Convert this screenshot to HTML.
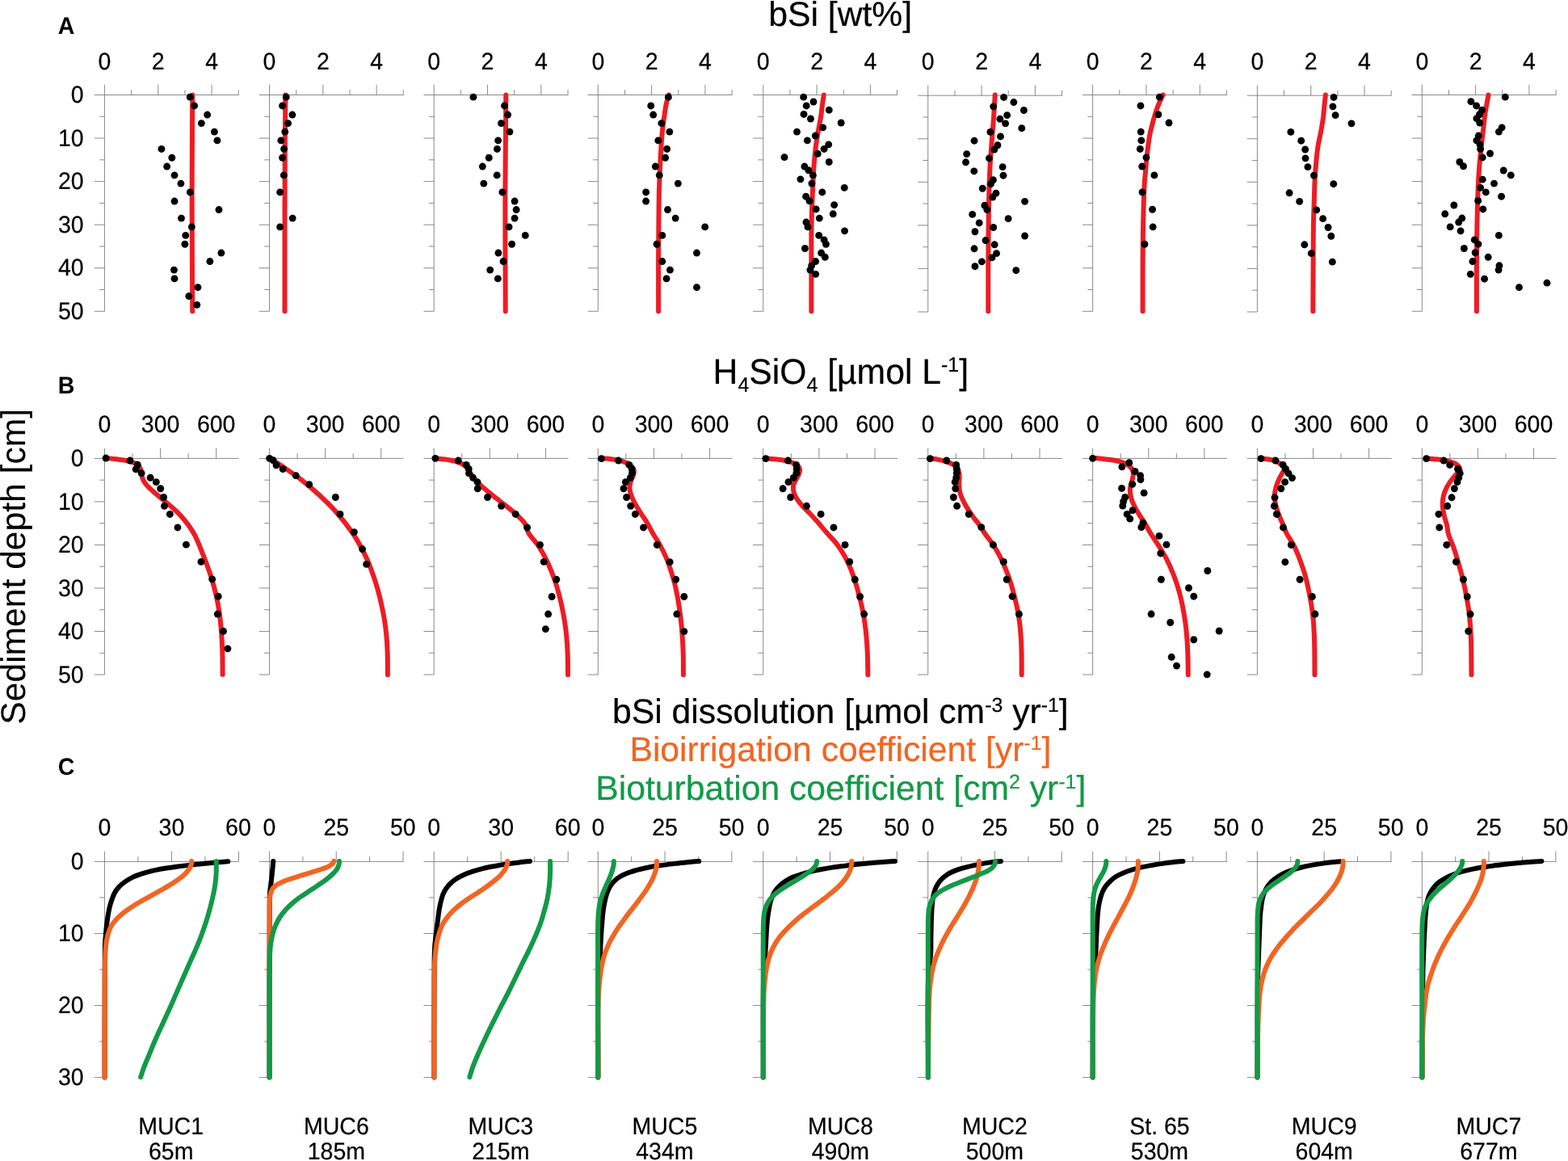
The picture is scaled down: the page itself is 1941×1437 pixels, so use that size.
<!DOCTYPE html>
<html lang="en"><head><meta charset="utf-8"><title>Sediment profiles: bSi, H4SiO4, dissolution</title>
<style>html,body{margin:0;padding:0;background:#fff}body{width:1941px;height:1437px;overflow:hidden}svg{display:block;text-rendering:geometricPrecision}text{font-family:"Liberation Sans", sans-serif;fill:#000;stroke:#000;stroke-width:0.22px}</style>
</head><body>
<svg width="1941" height="1437" viewBox="0 0 1941 1437">
<rect width="1941" height="1437" fill="#fff"/>
<g font-size="28.5">
<text transform="translate(129.45 86) scale(1 1.04)" text-anchor="middle">0</text>
<text transform="translate(195.77 86) scale(1 1.04)" text-anchor="middle">2</text>
<text transform="translate(262.09 86) scale(1 1.04)" text-anchor="middle">4</text>
<text transform="translate(129.45 535.4) scale(1 1.04)" text-anchor="middle">0</text>
<text transform="translate(198.57 535.4) scale(1 1.04)" text-anchor="middle">300</text>
<text transform="translate(267.69 535.4) scale(1 1.04)" text-anchor="middle">600</text>
<text transform="translate(129.45 1034.3) scale(1 1.04)" text-anchor="middle">0</text>
<text transform="translate(212.45 1034.3) scale(1 1.04)" text-anchor="middle">30</text>
<text transform="translate(294.95 1034.3) scale(1 1.04)" text-anchor="middle">60</text>
<text transform="translate(333.5 86) scale(1 1.04)" text-anchor="middle">0</text>
<text transform="translate(399.82 86) scale(1 1.04)" text-anchor="middle">2</text>
<text transform="translate(466.14 86) scale(1 1.04)" text-anchor="middle">4</text>
<text transform="translate(333.5 535.4) scale(1 1.04)" text-anchor="middle">0</text>
<text transform="translate(402.62 535.4) scale(1 1.04)" text-anchor="middle">300</text>
<text transform="translate(471.74 535.4) scale(1 1.04)" text-anchor="middle">600</text>
<text transform="translate(333.5 1034.3) scale(1 1.04)" text-anchor="middle">0</text>
<text transform="translate(416.25 1034.3) scale(1 1.04)" text-anchor="middle">25</text>
<text transform="translate(498.8 1034.3) scale(1 1.04)" text-anchor="middle">50</text>
<text transform="translate(537.2 86) scale(1 1.04)" text-anchor="middle">0</text>
<text transform="translate(603.52 86) scale(1 1.04)" text-anchor="middle">2</text>
<text transform="translate(669.84 86) scale(1 1.04)" text-anchor="middle">4</text>
<text transform="translate(537.2 535.4) scale(1 1.04)" text-anchor="middle">0</text>
<text transform="translate(606.32 535.4) scale(1 1.04)" text-anchor="middle">300</text>
<text transform="translate(675.44 535.4) scale(1 1.04)" text-anchor="middle">600</text>
<text transform="translate(537.2 1034.3) scale(1 1.04)" text-anchor="middle">0</text>
<text transform="translate(620.2 1034.3) scale(1 1.04)" text-anchor="middle">30</text>
<text transform="translate(702.7 1034.3) scale(1 1.04)" text-anchor="middle">60</text>
<text transform="translate(740.3 86) scale(1 1.04)" text-anchor="middle">0</text>
<text transform="translate(806.62 86) scale(1 1.04)" text-anchor="middle">2</text>
<text transform="translate(872.94 86) scale(1 1.04)" text-anchor="middle">4</text>
<text transform="translate(740.3 535.4) scale(1 1.04)" text-anchor="middle">0</text>
<text transform="translate(809.42 535.4) scale(1 1.04)" text-anchor="middle">300</text>
<text transform="translate(878.54 535.4) scale(1 1.04)" text-anchor="middle">600</text>
<text transform="translate(740.3 1034.3) scale(1 1.04)" text-anchor="middle">0</text>
<text transform="translate(823.05 1034.3) scale(1 1.04)" text-anchor="middle">25</text>
<text transform="translate(905.6 1034.3) scale(1 1.04)" text-anchor="middle">50</text>
<text transform="translate(944.75 86) scale(1 1.04)" text-anchor="middle">0</text>
<text transform="translate(1011.07 86) scale(1 1.04)" text-anchor="middle">2</text>
<text transform="translate(1077.39 86) scale(1 1.04)" text-anchor="middle">4</text>
<text transform="translate(944.75 535.4) scale(1 1.04)" text-anchor="middle">0</text>
<text transform="translate(1013.87 535.4) scale(1 1.04)" text-anchor="middle">300</text>
<text transform="translate(1082.99 535.4) scale(1 1.04)" text-anchor="middle">600</text>
<text transform="translate(944.75 1034.3) scale(1 1.04)" text-anchor="middle">0</text>
<text transform="translate(1027.5 1034.3) scale(1 1.04)" text-anchor="middle">25</text>
<text transform="translate(1110.05 1034.3) scale(1 1.04)" text-anchor="middle">50</text>
<text transform="translate(1148.75 86) scale(1 1.04)" text-anchor="middle">0</text>
<text transform="translate(1215.07 86) scale(1 1.04)" text-anchor="middle">2</text>
<text transform="translate(1281.39 86) scale(1 1.04)" text-anchor="middle">4</text>
<text transform="translate(1148.75 535.4) scale(1 1.04)" text-anchor="middle">0</text>
<text transform="translate(1217.87 535.4) scale(1 1.04)" text-anchor="middle">300</text>
<text transform="translate(1286.99 535.4) scale(1 1.04)" text-anchor="middle">600</text>
<text transform="translate(1148.75 1034.3) scale(1 1.04)" text-anchor="middle">0</text>
<text transform="translate(1231.5 1034.3) scale(1 1.04)" text-anchor="middle">25</text>
<text transform="translate(1314.05 1034.3) scale(1 1.04)" text-anchor="middle">50</text>
<text transform="translate(1352.65 86) scale(1 1.04)" text-anchor="middle">0</text>
<text transform="translate(1418.97 86) scale(1 1.04)" text-anchor="middle">2</text>
<text transform="translate(1485.29 86) scale(1 1.04)" text-anchor="middle">4</text>
<text transform="translate(1352.65 535.4) scale(1 1.04)" text-anchor="middle">0</text>
<text transform="translate(1421.77 535.4) scale(1 1.04)" text-anchor="middle">300</text>
<text transform="translate(1490.89 535.4) scale(1 1.04)" text-anchor="middle">600</text>
<text transform="translate(1352.65 1034.3) scale(1 1.04)" text-anchor="middle">0</text>
<text transform="translate(1435.4 1034.3) scale(1 1.04)" text-anchor="middle">25</text>
<text transform="translate(1517.95 1034.3) scale(1 1.04)" text-anchor="middle">50</text>
<text transform="translate(1556.4 86) scale(1 1.04)" text-anchor="middle">0</text>
<text transform="translate(1622.72 86) scale(1 1.04)" text-anchor="middle">2</text>
<text transform="translate(1689.04 86) scale(1 1.04)" text-anchor="middle">4</text>
<text transform="translate(1556.4 535.4) scale(1 1.04)" text-anchor="middle">0</text>
<text transform="translate(1625.52 535.4) scale(1 1.04)" text-anchor="middle">300</text>
<text transform="translate(1694.64 535.4) scale(1 1.04)" text-anchor="middle">600</text>
<text transform="translate(1556.4 1034.3) scale(1 1.04)" text-anchor="middle">0</text>
<text transform="translate(1639.15 1034.3) scale(1 1.04)" text-anchor="middle">25</text>
<text transform="translate(1721.7 1034.3) scale(1 1.04)" text-anchor="middle">50</text>
<text transform="translate(1760.3 86) scale(1 1.04)" text-anchor="middle">0</text>
<text transform="translate(1826.62 86) scale(1 1.04)" text-anchor="middle">2</text>
<text transform="translate(1892.94 86) scale(1 1.04)" text-anchor="middle">4</text>
<text transform="translate(1760.3 535.4) scale(1 1.04)" text-anchor="middle">0</text>
<text transform="translate(1829.42 535.4) scale(1 1.04)" text-anchor="middle">300</text>
<text transform="translate(1898.54 535.4) scale(1 1.04)" text-anchor="middle">600</text>
<text transform="translate(1760.3 1034.3) scale(1 1.04)" text-anchor="middle">0</text>
<text transform="translate(1843.05 1034.3) scale(1 1.04)" text-anchor="middle">25</text>
<text transform="translate(1925.6 1034.3) scale(1 1.04)" text-anchor="middle">50</text>
<text transform="translate(103.6 127.2) scale(1 1.04)" text-anchor="end">0</text>
<text transform="translate(103.6 180.76) scale(1 1.04)" text-anchor="end">10</text>
<text transform="translate(103.6 234.32) scale(1 1.04)" text-anchor="end">20</text>
<text transform="translate(103.6 287.88) scale(1 1.04)" text-anchor="end">30</text>
<text transform="translate(103.6 341.44) scale(1 1.04)" text-anchor="end">40</text>
<text transform="translate(103.6 395) scale(1 1.04)" text-anchor="end">50</text>
<text transform="translate(103.6 577.1) scale(1 1.04)" text-anchor="end">0</text>
<text transform="translate(103.6 630.62) scale(1 1.04)" text-anchor="end">10</text>
<text transform="translate(103.6 684.14) scale(1 1.04)" text-anchor="end">20</text>
<text transform="translate(103.6 737.66) scale(1 1.04)" text-anchor="end">30</text>
<text transform="translate(103.6 791.18) scale(1 1.04)" text-anchor="end">40</text>
<text transform="translate(103.6 844.7) scale(1 1.04)" text-anchor="end">50</text>
<text transform="translate(103.6 1076.1) scale(1 1.04)" text-anchor="end">0</text>
<text transform="translate(103.6 1165.17) scale(1 1.04)" text-anchor="end">10</text>
<text transform="translate(103.6 1254.23) scale(1 1.04)" text-anchor="end">20</text>
<text transform="translate(103.6 1343.3) scale(1 1.04)" text-anchor="end">30</text>
</g>
<path d="M116.75 117.5H295.65M129.45 104.8V385.3M162.61 117.5V111.2M195.77 117.5V104.8M228.93 117.5V111.2M262.09 117.5V104.8M295.25 117.5V111.2M129.45 144.28H123.15M129.45 171.06H116.75M129.45 197.84H123.15M129.45 224.62H116.75M129.45 251.4H123.15M129.45 278.18H116.75M129.45 304.96H123.15M129.45 331.74H116.75M129.45 358.52H123.15M129.45 385.3H116.75" fill="none" stroke="#7a7a7a" stroke-width="0.88"/>
<path d="M116.75 567.4H295.65M129.45 554.7V835M164.01 567.4V561.1M198.57 567.4V554.7M233.13 567.4V561.1M267.69 567.4V554.7M129.45 594.16H123.15M129.45 620.92H116.75M129.45 647.68H123.15M129.45 674.44H116.75M129.45 701.2H123.15M129.45 727.96H116.75M129.45 754.72H123.15M129.45 781.48H116.75M129.45 808.24H123.15M129.45 835H116.75" fill="none" stroke="#7a7a7a" stroke-width="0.88"/>
<path d="M116.75 1066.4H295.65M129.45 1053.7V1333.6M170.95 1066.4V1060.1M212.45 1066.4V1053.7M253.95 1066.4V1060.1M295.45 1066.4V1053.7M129.45 1110.93H123.15M129.45 1155.47H116.75M129.45 1200H123.15M129.45 1244.53H116.75M129.45 1289.07H123.15M129.45 1333.6H116.75" fill="none" stroke="#7a7a7a" stroke-width="0.88"/>
<path d="M320.8 117.5H499.7M333.5 104.8V385.3M366.66 117.5V111.2M399.82 117.5V104.8M432.98 117.5V111.2M466.14 117.5V104.8M499.3 117.5V111.2M333.5 144.28H327.2M333.5 171.06H320.8M333.5 197.84H327.2M333.5 224.62H320.8M333.5 251.4H327.2M333.5 278.18H320.8M333.5 304.96H327.2M333.5 331.74H320.8M333.5 358.52H327.2M333.5 385.3H320.8" fill="none" stroke="#7a7a7a" stroke-width="0.88"/>
<path d="M320.8 567.4H499.7M333.5 554.7V835M368.06 567.4V561.1M402.62 567.4V554.7M437.18 567.4V561.1M471.74 567.4V554.7M333.5 594.16H327.2M333.5 620.92H320.8M333.5 647.68H327.2M333.5 674.44H320.8M333.5 701.2H327.2M333.5 727.96H320.8M333.5 754.72H327.2M333.5 781.48H320.8M333.5 808.24H327.2M333.5 835H320.8" fill="none" stroke="#7a7a7a" stroke-width="0.88"/>
<path d="M320.8 1066.4H499.7M333.5 1053.7V1333.6M374.88 1066.4V1060.1M416.25 1066.4V1053.7M457.62 1066.4V1060.1M499 1066.4V1053.7M333.5 1110.93H327.2M333.5 1155.47H320.8M333.5 1200H327.2M333.5 1244.53H320.8M333.5 1289.07H327.2M333.5 1333.6H320.8" fill="none" stroke="#7a7a7a" stroke-width="0.88"/>
<path d="M524.5 117.5H703.4M537.2 104.8V385.3M570.36 117.5V111.2M603.52 117.5V104.8M636.68 117.5V111.2M669.84 117.5V104.8M703 117.5V111.2M537.2 144.28H530.9M537.2 171.06H524.5M537.2 197.84H530.9M537.2 224.62H524.5M537.2 251.4H530.9M537.2 278.18H524.5M537.2 304.96H530.9M537.2 331.74H524.5M537.2 358.52H530.9M537.2 385.3H524.5" fill="none" stroke="#7a7a7a" stroke-width="0.88"/>
<path d="M524.5 567.4H703.4M537.2 554.7V835M571.76 567.4V561.1M606.32 567.4V554.7M640.88 567.4V561.1M675.44 567.4V554.7M537.2 594.16H530.9M537.2 620.92H524.5M537.2 647.68H530.9M537.2 674.44H524.5M537.2 701.2H530.9M537.2 727.96H524.5M537.2 754.72H530.9M537.2 781.48H524.5M537.2 808.24H530.9M537.2 835H524.5" fill="none" stroke="#7a7a7a" stroke-width="0.88"/>
<path d="M524.5 1066.4H703.4M537.2 1053.7V1333.6M578.7 1066.4V1060.1M620.2 1066.4V1053.7M661.7 1066.4V1060.1M703.2 1066.4V1053.7M537.2 1110.93H530.9M537.2 1155.47H524.5M537.2 1200H530.9M537.2 1244.53H524.5M537.2 1289.07H530.9M537.2 1333.6H524.5" fill="none" stroke="#7a7a7a" stroke-width="0.88"/>
<path d="M727.6 117.5H906.5M740.3 104.8V385.3M773.46 117.5V111.2M806.62 117.5V104.8M839.78 117.5V111.2M872.94 117.5V104.8M906.1 117.5V111.2M740.3 144.28H734M740.3 171.06H727.6M740.3 197.84H734M740.3 224.62H727.6M740.3 251.4H734M740.3 278.18H727.6M740.3 304.96H734M740.3 331.74H727.6M740.3 358.52H734M740.3 385.3H727.6" fill="none" stroke="#7a7a7a" stroke-width="0.88"/>
<path d="M727.6 567.4H906.5M740.3 554.7V835M774.86 567.4V561.1M809.42 567.4V554.7M843.98 567.4V561.1M878.54 567.4V554.7M740.3 594.16H734M740.3 620.92H727.6M740.3 647.68H734M740.3 674.44H727.6M740.3 701.2H734M740.3 727.96H727.6M740.3 754.72H734M740.3 781.48H727.6M740.3 808.24H734M740.3 835H727.6" fill="none" stroke="#7a7a7a" stroke-width="0.88"/>
<path d="M727.6 1066.4H906.5M740.3 1053.7V1333.6M781.67 1066.4V1060.1M823.05 1066.4V1053.7M864.42 1066.4V1060.1M905.8 1066.4V1053.7M740.3 1110.93H734M740.3 1155.47H727.6M740.3 1200H734M740.3 1244.53H727.6M740.3 1289.07H734M740.3 1333.6H727.6" fill="none" stroke="#7a7a7a" stroke-width="0.88"/>
<path d="M932.05 117.5H1110.95M944.75 104.8V385.3M977.91 117.5V111.2M1011.07 117.5V104.8M1044.23 117.5V111.2M1077.39 117.5V104.8M1110.55 117.5V111.2M944.75 144.28H938.45M944.75 171.06H932.05M944.75 197.84H938.45M944.75 224.62H932.05M944.75 251.4H938.45M944.75 278.18H932.05M944.75 304.96H938.45M944.75 331.74H932.05M944.75 358.52H938.45M944.75 385.3H932.05" fill="none" stroke="#7a7a7a" stroke-width="0.88"/>
<path d="M932.05 567.4H1110.95M944.75 554.7V835M979.31 567.4V561.1M1013.87 567.4V554.7M1048.43 567.4V561.1M1082.99 567.4V554.7M944.75 594.16H938.45M944.75 620.92H932.05M944.75 647.68H938.45M944.75 674.44H932.05M944.75 701.2H938.45M944.75 727.96H932.05M944.75 754.72H938.45M944.75 781.48H932.05M944.75 808.24H938.45M944.75 835H932.05" fill="none" stroke="#7a7a7a" stroke-width="0.88"/>
<path d="M932.05 1066.4H1110.95M944.75 1053.7V1333.6M986.12 1066.4V1060.1M1027.5 1066.4V1053.7M1068.88 1066.4V1060.1M1110.25 1066.4V1053.7M944.75 1110.93H938.45M944.75 1155.47H932.05M944.75 1200H938.45M944.75 1244.53H932.05M944.75 1289.07H938.45M944.75 1333.6H932.05" fill="none" stroke="#7a7a7a" stroke-width="0.88"/>
<path d="M1136.05 118.2H1314.95M1148.75 105.5V386M1181.91 118.2V111.9M1215.07 118.2V105.5M1248.23 118.2V111.9M1281.39 118.2V105.5M1314.55 118.2V111.9M1148.75 144.98H1142.45M1148.75 171.76H1136.05M1148.75 198.54H1142.45M1148.75 225.32H1136.05M1148.75 252.1H1142.45M1148.75 278.88H1136.05M1148.75 305.66H1142.45M1148.75 332.44H1136.05M1148.75 359.22H1142.45M1148.75 386H1136.05" fill="none" stroke="#7a7a7a" stroke-width="0.88"/>
<path d="M1136.05 567.4H1314.95M1148.75 554.7V835M1183.31 567.4V561.1M1217.87 567.4V554.7M1252.43 567.4V561.1M1286.99 567.4V554.7M1148.75 594.16H1142.45M1148.75 620.92H1136.05M1148.75 647.68H1142.45M1148.75 674.44H1136.05M1148.75 701.2H1142.45M1148.75 727.96H1136.05M1148.75 754.72H1142.45M1148.75 781.48H1136.05M1148.75 808.24H1142.45M1148.75 835H1136.05" fill="none" stroke="#7a7a7a" stroke-width="0.88"/>
<path d="M1136.05 1066.4H1314.95M1148.75 1053.7V1333.6M1190.12 1066.4V1060.1M1231.5 1066.4V1053.7M1272.88 1066.4V1060.1M1314.25 1066.4V1053.7M1148.75 1110.93H1142.45M1148.75 1155.47H1136.05M1148.75 1200H1142.45M1148.75 1244.53H1136.05M1148.75 1289.07H1142.45M1148.75 1333.6H1136.05" fill="none" stroke="#7a7a7a" stroke-width="0.88"/>
<path d="M1339.95 117.5H1518.85M1352.65 104.8V385.3M1385.81 117.5V111.2M1418.97 117.5V104.8M1452.13 117.5V111.2M1485.29 117.5V104.8M1518.45 117.5V111.2M1352.65 144.28H1346.35M1352.65 171.06H1339.95M1352.65 197.84H1346.35M1352.65 224.62H1339.95M1352.65 251.4H1346.35M1352.65 278.18H1339.95M1352.65 304.96H1346.35M1352.65 331.74H1339.95M1352.65 358.52H1346.35M1352.65 385.3H1339.95" fill="none" stroke="#7a7a7a" stroke-width="0.88"/>
<path d="M1339.95 567.4H1518.85M1352.65 554.7V835M1387.21 567.4V561.1M1421.77 567.4V554.7M1456.33 567.4V561.1M1490.89 567.4V554.7M1352.65 594.16H1346.35M1352.65 620.92H1339.95M1352.65 647.68H1346.35M1352.65 674.44H1339.95M1352.65 701.2H1346.35M1352.65 727.96H1339.95M1352.65 754.72H1346.35M1352.65 781.48H1339.95M1352.65 808.24H1346.35M1352.65 835H1339.95" fill="none" stroke="#7a7a7a" stroke-width="0.88"/>
<path d="M1339.95 1066.4H1518.85M1352.65 1053.7V1333.6M1394.03 1066.4V1060.1M1435.4 1066.4V1053.7M1476.78 1066.4V1060.1M1518.15 1066.4V1053.7M1352.65 1110.93H1346.35M1352.65 1155.47H1339.95M1352.65 1200H1346.35M1352.65 1244.53H1339.95M1352.65 1289.07H1346.35M1352.65 1333.6H1339.95" fill="none" stroke="#7a7a7a" stroke-width="0.88"/>
<path d="M1543.7 118.2H1722.6M1556.4 105.5V386M1589.56 118.2V111.9M1622.72 118.2V105.5M1655.88 118.2V111.9M1689.04 118.2V105.5M1722.2 118.2V111.9M1556.4 144.98H1550.1M1556.4 171.76H1543.7M1556.4 198.54H1550.1M1556.4 225.32H1543.7M1556.4 252.1H1550.1M1556.4 278.88H1543.7M1556.4 305.66H1550.1M1556.4 332.44H1543.7M1556.4 359.22H1550.1M1556.4 386H1543.7" fill="none" stroke="#7a7a7a" stroke-width="0.88"/>
<path d="M1543.7 567.4H1722.6M1556.4 554.7V835M1590.96 567.4V561.1M1625.52 567.4V554.7M1660.08 567.4V561.1M1694.64 567.4V554.7M1556.4 594.16H1550.1M1556.4 620.92H1543.7M1556.4 647.68H1550.1M1556.4 674.44H1543.7M1556.4 701.2H1550.1M1556.4 727.96H1543.7M1556.4 754.72H1550.1M1556.4 781.48H1543.7M1556.4 808.24H1550.1M1556.4 835H1543.7" fill="none" stroke="#7a7a7a" stroke-width="0.88"/>
<path d="M1543.7 1066.4H1722.6M1556.4 1053.7V1333.6M1597.78 1066.4V1060.1M1639.15 1066.4V1053.7M1680.53 1066.4V1060.1M1721.9 1066.4V1053.7M1556.4 1110.93H1550.1M1556.4 1155.47H1543.7M1556.4 1200H1550.1M1556.4 1244.53H1543.7M1556.4 1289.07H1550.1M1556.4 1333.6H1543.7" fill="none" stroke="#7a7a7a" stroke-width="0.88"/>
<path d="M1747.6 117.5H1926.5M1760.3 104.8V385.3M1793.46 117.5V111.2M1826.62 117.5V104.8M1859.78 117.5V111.2M1892.94 117.5V104.8M1926.1 117.5V111.2M1760.3 144.28H1754M1760.3 171.06H1747.6M1760.3 197.84H1754M1760.3 224.62H1747.6M1760.3 251.4H1754M1760.3 278.18H1747.6M1760.3 304.96H1754M1760.3 331.74H1747.6M1760.3 358.52H1754M1760.3 385.3H1747.6" fill="none" stroke="#7a7a7a" stroke-width="0.88"/>
<path d="M1747.6 567.4H1926.5M1760.3 554.7V835M1794.86 567.4V561.1M1829.42 567.4V554.7M1863.98 567.4V561.1M1898.54 567.4V554.7M1760.3 594.16H1754M1760.3 620.92H1747.6M1760.3 647.68H1754M1760.3 674.44H1747.6M1760.3 701.2H1754M1760.3 727.96H1747.6M1760.3 754.72H1754M1760.3 781.48H1747.6M1760.3 808.24H1754M1760.3 835H1747.6" fill="none" stroke="#7a7a7a" stroke-width="0.88"/>
<path d="M1747.6 1066.4H1926.5M1760.3 1053.7V1333.6M1801.67 1066.4V1060.1M1843.05 1066.4V1053.7M1884.42 1066.4V1060.1M1925.8 1066.4V1053.7M1760.3 1110.93H1754M1760.3 1155.47H1747.6M1760.3 1200H1754M1760.3 1244.53H1747.6M1760.3 1289.07H1754M1760.3 1333.6H1747.6" fill="none" stroke="#7a7a7a" stroke-width="0.88"/>
<path d="M238.22 117.5C238.12 136.79 238.02 154.78 237.93 175.38C237.83 198.99 237.64 226.55 237.64 251.37C237.64 275.22 237.83 298.7 237.93 321.52C238.02 343.27 238.12 364 238.22 385.24" fill="none" stroke="#ed1c24" stroke-width="6.0" stroke-linecap="round" stroke-linejoin="round"/>
<g fill="#000"><circle cx="235.3" cy="120.13" r="4.45"/><circle cx="240.56" cy="130.95" r="4.45"/><circle cx="256.64" cy="142.06" r="4.45"/><circle cx="249.33" cy="152.58" r="4.45"/><circle cx="265.4" cy="163.1" r="4.45"/><circle cx="268.91" cy="173.92" r="4.45"/><circle cx="199.93" cy="184.44" r="4.45"/><circle cx="212.79" cy="195.25" r="4.45"/><circle cx="206.65" cy="206.07" r="4.45"/><circle cx="216.01" cy="216.88" r="4.45"/><circle cx="223.9" cy="227.11" r="4.45"/><circle cx="235.3" cy="237.93" r="4.45"/><circle cx="216.01" cy="249.04" r="4.45"/><circle cx="270.96" cy="259.56" r="4.45"/><circle cx="224.48" cy="270.08" r="4.45"/><circle cx="237.34" cy="280.9" r="4.45"/><circle cx="229.74" cy="291.42" r="4.45"/><circle cx="228.87" cy="302.23" r="4.45"/><circle cx="273.88" cy="313.05" r="4.45"/><circle cx="259.85" cy="323.57" r="4.45"/><circle cx="215.42" cy="334.09" r="4.45"/><circle cx="216.01" cy="344.91" r="4.45"/><circle cx="244.94" cy="355.72" r="4.45"/><circle cx="233.84" cy="366.54" r="4.45"/><circle cx="243.77" cy="377.35" r="4.45"/></g>
<path d="M353.38 117.5C353.19 136.79 352.94 154.09 352.8 175.38C352.63 201.58 352.56 231.42 352.51 263.07C352.45 300.42 352.51 344.52 352.51 385.24" fill="none" stroke="#ed1c24" stroke-width="6.0" stroke-linecap="round" stroke-linejoin="round"/>
<g fill="#000"><circle cx="354.26" cy="120.13" r="4.45"/><circle cx="349.58" cy="130.95" r="4.45"/><circle cx="361.86" cy="142.06" r="4.45"/><circle cx="356.6" cy="152.58" r="4.45"/><circle cx="352.8" cy="163.1" r="4.45"/><circle cx="347.83" cy="173.92" r="4.45"/><circle cx="351.63" cy="184.44" r="4.45"/><circle cx="349.58" cy="195.25" r="4.45"/><circle cx="351.34" cy="216.88" r="4.45"/><circle cx="346.66" cy="237.93" r="4.45"/><circle cx="362.15" cy="270.08" r="4.45"/><circle cx="346.66" cy="280.9" r="4.45"/></g>
<path d="M626.27 117.5C626.17 132.9 626.1 146.69 625.98 163.69C625.83 184.64 625.48 211.52 625.39 233.84C625.3 254.21 625.35 270.56 625.39 292.3C625.43 319.71 625.59 354.26 625.69 385.24" fill="none" stroke="#ed1c24" stroke-width="6.0" stroke-linecap="round" stroke-linejoin="round"/>
<g fill="#000"><circle cx="585.93" cy="120.13" r="4.45"/><circle cx="624.52" cy="130.95" r="4.45"/><circle cx="628.61" cy="142.06" r="4.45"/><circle cx="620.43" cy="152.58" r="4.45"/><circle cx="630.95" cy="163.1" r="4.45"/><circle cx="616.63" cy="173.92" r="4.45"/><circle cx="615.46" cy="184.44" r="4.45"/><circle cx="605.23" cy="195.25" r="4.45"/><circle cx="597.33" cy="206.07" r="4.45"/><circle cx="615.16" cy="216.88" r="4.45"/><circle cx="598.8" cy="227.11" r="4.45"/><circle cx="621.89" cy="237.93" r="4.45"/><circle cx="637.09" cy="249.04" r="4.45"/><circle cx="639.13" cy="259.56" r="4.45"/><circle cx="637.09" cy="270.08" r="4.45"/><circle cx="630.07" cy="280.9" r="4.45"/><circle cx="650.24" cy="291.42" r="4.45"/><circle cx="633.58" cy="302.23" r="4.45"/><circle cx="616.92" cy="313.05" r="4.45"/><circle cx="623.06" cy="323.57" r="4.45"/><circle cx="606.69" cy="334.09" r="4.45"/><circle cx="616.33" cy="344.91" r="4.45"/></g>
<path d="M827.96 117.5C826.89 121.2 825.63 124.62 824.74 128.61C823.73 133.12 823.16 137.93 822.4 143.22C821.5 149.46 820.53 155.94 819.77 163.69C818.78 173.8 818.06 187.07 817.43 198.76C816.8 210.45 816.31 221.49 815.97 233.84C815.59 247.64 815.54 263.07 815.39 277.68C815.24 292.29 815.14 305.54 815.09 321.52C815.02 340.78 815.09 364 815.09 385.24" fill="none" stroke="#ed1c24" stroke-width="6.0" stroke-linecap="round" stroke-linejoin="round"/>
<g fill="#000"><circle cx="827.37" cy="120.13" r="4.45"/><circle cx="805.74" cy="130.95" r="4.45"/><circle cx="808.66" cy="142.06" r="4.45"/><circle cx="818.89" cy="152.58" r="4.45"/><circle cx="828.83" cy="163.1" r="4.45"/><circle cx="814.8" cy="173.92" r="4.45"/><circle cx="825.62" cy="184.44" r="4.45"/><circle cx="823.57" cy="195.25" r="4.45"/><circle cx="811.29" cy="206.07" r="4.45"/><circle cx="816.26" cy="216.88" r="4.45"/><circle cx="839.35" cy="227.11" r="4.45"/><circle cx="799.6" cy="237.93" r="4.45"/><circle cx="799.6" cy="249.04" r="4.45"/><circle cx="826.49" cy="259.56" r="4.45"/><circle cx="836.14" cy="270.08" r="4.45"/><circle cx="872.68" cy="280.9" r="4.45"/><circle cx="819.77" cy="291.42" r="4.45"/><circle cx="813.05" cy="302.23" r="4.45"/><circle cx="862.45" cy="313.05" r="4.45"/><circle cx="819.77" cy="323.57" r="4.45"/><circle cx="829.42" cy="334.09" r="4.45"/><circle cx="825.03" cy="344.91" r="4.45"/><circle cx="862.45" cy="355.72" r="4.45"/></g>
<path d="M1019.84 117.5C1019.26 121.2 1018.64 124.65 1018.09 128.61C1017.46 133.14 1017.06 138.36 1016.33 143.22C1015.6 148.1 1014.63 152.39 1013.7 157.84C1012.52 164.72 1010.92 173.41 1009.9 181.22C1008.88 189 1008.18 196.37 1007.56 204.61C1006.87 213.8 1006.54 224.1 1006.1 233.84C1005.66 243.58 1005.22 253.33 1004.93 263.07C1004.64 272.81 1004.46 281.57 1004.35 292.3C1004.22 305.44 1004.35 321.11 1004.35 336.14C1004.35 352.04 1004.35 368.87 1004.35 385.24" fill="none" stroke="#ed1c24" stroke-width="6.0" stroke-linecap="round" stroke-linejoin="round"/>
<g fill="#000"><circle cx="994.7" cy="120.13" r="4.45"/><circle cx="1006.98" cy="125.98" r="4.45"/><circle cx="998.21" cy="130.95" r="4.45"/><circle cx="1026.27" cy="136.21" r="4.45"/><circle cx="995" cy="141.47" r="4.45"/><circle cx="1003.47" cy="147.02" r="4.45"/><circle cx="1041.18" cy="151.99" r="4.45"/><circle cx="1018.67" cy="157.84" r="4.45"/><circle cx="986.52" cy="163.1" r="4.45"/><circle cx="1009.32" cy="168.07" r="4.45"/><circle cx="999.38" cy="173.92" r="4.45"/><circle cx="1025.69" cy="178.88" r="4.45"/><circle cx="1020.13" cy="184.44" r="4.45"/><circle cx="1012.24" cy="190.28" r="4.45"/><circle cx="971.03" cy="194.67" r="4.45"/><circle cx="1026.27" cy="200.51" r="4.45"/><circle cx="995.87" cy="206.07" r="4.45"/><circle cx="1000.84" cy="210.74" r="4.45"/><circle cx="1006.4" cy="216.88" r="4.45"/><circle cx="990.9" cy="221.85" r="4.45"/><circle cx="1004.93" cy="227.11" r="4.45"/><circle cx="1045.27" cy="232.37" r="4.45"/><circle cx="1017.79" cy="237.93" r="4.45"/><circle cx="997.63" cy="243.19" r="4.45"/><circle cx="1002.01" cy="248.74" r="4.45"/><circle cx="1032.7" cy="253.71" r="4.45"/><circle cx="1010.2" cy="258.97" r="4.45"/><circle cx="1031.24" cy="264.82" r="4.45"/><circle cx="1014.29" cy="270.08" r="4.45"/><circle cx="997.92" cy="275.05" r="4.45"/><circle cx="999.96" cy="280.9" r="4.45"/><circle cx="1045.56" cy="285.86" r="4.45"/><circle cx="1013.7" cy="291.42" r="4.45"/><circle cx="1020.13" cy="296.97" r="4.45"/><circle cx="1022.47" cy="302.23" r="4.45"/><circle cx="996.46" cy="307.49" r="4.45"/><circle cx="1016.63" cy="313.05" r="4.45"/><circle cx="1021.3" cy="318.31" r="4.45"/><circle cx="1009.61" cy="323.57" r="4.45"/><circle cx="1004.64" cy="328.83" r="4.45"/><circle cx="1002.89" cy="334.09" r="4.45"/><circle cx="1009.61" cy="339.35" r="4.45"/></g>
<path d="M1231.75 117.5C1231.17 127.05 1230.68 136.56 1230 146.15C1229.32 155.85 1228.39 165.63 1227.66 175.38C1226.93 185.12 1226.16 194.86 1225.62 204.61C1225.09 214.35 1224.74 224.1 1224.45 233.84C1224.16 243.58 1224.01 253.33 1223.86 263.07C1223.71 272.81 1223.66 281.57 1223.57 292.3C1223.46 305.44 1223.33 321.11 1223.28 336.14C1223.23 352.04 1223.28 368.87 1223.28 385.24" fill="none" stroke="#ed1c24" stroke-width="6.0" stroke-linecap="round" stroke-linejoin="round"/>
<g fill="#000"><circle cx="1242.57" cy="120.43" r="4.45"/><circle cx="1254.85" cy="126.56" r="4.45"/><circle cx="1229.71" cy="131.83" r="4.45"/><circle cx="1267.41" cy="136.5" r="4.45"/><circle cx="1246.66" cy="142.64" r="4.45"/><circle cx="1237.89" cy="147.32" r="4.45"/><circle cx="1244.62" cy="152.87" r="4.45"/><circle cx="1264.78" cy="158.72" r="4.45"/><circle cx="1225.91" cy="163.39" r="4.45"/><circle cx="1238.48" cy="168.95" r="4.45"/><circle cx="1206.03" cy="174.21" r="4.45"/><circle cx="1234.97" cy="179.76" r="4.45"/><circle cx="1230.88" cy="185.02" r="4.45"/><circle cx="1196.68" cy="190.58" r="4.45"/><circle cx="1224.45" cy="195.84" r="4.45"/><circle cx="1195.51" cy="200.81" r="4.45"/><circle cx="1241.11" cy="206.65" r="4.45"/><circle cx="1205.74" cy="211.91" r="4.45"/><circle cx="1241.99" cy="217.18" r="4.45"/><circle cx="1229.42" cy="222.73" r="4.45"/><circle cx="1226.49" cy="227.7" r="4.45"/><circle cx="1216.26" cy="233.25" r="4.45"/><circle cx="1232.92" cy="239.1" r="4.45"/><circle cx="1228.83" cy="244.07" r="4.45"/><circle cx="1268.58" cy="249.33" r="4.45"/><circle cx="1218.89" cy="254.3" r="4.45"/><circle cx="1221.82" cy="259.56" r="4.45"/><circle cx="1203.69" cy="265.4" r="4.45"/><circle cx="1248.12" cy="270.67" r="4.45"/><circle cx="1212.17" cy="275.93" r="4.45"/><circle cx="1229.71" cy="281.48" r="4.45"/><circle cx="1206.91" cy="286.74" r="4.45"/><circle cx="1268.58" cy="292" r="4.45"/><circle cx="1220.06" cy="297.56" r="4.45"/><circle cx="1231.17" cy="302.82" r="4.45"/><circle cx="1206.03" cy="307.79" r="4.45"/><circle cx="1233.51" cy="313.63" r="4.45"/><circle cx="1227.96" cy="318.89" r="4.45"/><circle cx="1215.39" cy="323.86" r="4.45"/><circle cx="1206.91" cy="329.71" r="4.45"/><circle cx="1257.77" cy="334.68" r="4.45"/></g>
<path d="M1439.72 117.5C1438.16 120.72 1436.5 123.74 1435.04 127.15C1433.46 130.83 1432 134.8 1430.66 138.84C1429.26 143.07 1428.05 147.48 1426.86 151.99C1425.61 156.72 1424.36 161.3 1423.35 166.61C1422.16 172.83 1421.29 180.01 1420.43 187.07C1419.52 194.59 1418.77 202.65 1418.09 210.45C1417.41 218.24 1416.76 225.6 1416.33 233.84C1415.85 243.04 1415.7 253.33 1415.46 263.07C1415.22 272.81 1415.01 281.57 1414.87 292.3C1414.69 305.44 1414.63 321.11 1414.58 336.14C1414.53 352.04 1414.58 368.87 1414.58 385.24" fill="none" stroke="#ed1c24" stroke-width="6.0" stroke-linecap="round" stroke-linejoin="round"/>
<g fill="#000"><circle cx="1435.33" cy="120.13" r="4.45"/><circle cx="1411.95" cy="130.95" r="4.45"/><circle cx="1433.87" cy="141.76" r="4.45"/><circle cx="1447.02" cy="151.99" r="4.45"/><circle cx="1412.24" cy="163.1" r="4.45"/><circle cx="1412.83" cy="173.92" r="4.45"/><circle cx="1411.36" cy="184.44" r="4.45"/><circle cx="1418.96" cy="194.96" r="4.45"/><circle cx="1413.7" cy="206.07" r="4.45"/><circle cx="1428.9" cy="216.88" r="4.45"/><circle cx="1414" cy="237.93" r="4.45"/><circle cx="1426.56" cy="259.27" r="4.45"/><circle cx="1427.15" cy="280.9" r="4.45"/><circle cx="1416.92" cy="302.23" r="4.45"/></g>
<path d="M1640.82 117.5C1640.33 122.18 1639.83 126.8 1639.35 131.53C1638.86 136.35 1638.57 141.07 1637.89 146.15C1637.15 151.74 1636.04 157.85 1634.97 163.69C1633.9 169.54 1632.39 175.36 1631.46 181.22C1630.54 187.05 1630.02 192.49 1629.42 198.76C1628.73 205.99 1628.09 214.11 1627.66 222.14C1627.2 230.65 1627.07 239.45 1626.79 248.45C1626.49 257.94 1626.11 266.95 1625.91 277.68C1625.67 290.82 1625.71 305.54 1625.62 321.52C1625.51 340.78 1625.42 364 1625.32 385.24" fill="none" stroke="#ed1c24" stroke-width="6.0" stroke-linecap="round" stroke-linejoin="round"/>
<g fill="#000"><circle cx="1651.05" cy="120.43" r="4.45"/><circle cx="1649.88" cy="131.83" r="4.45"/><circle cx="1653.09" cy="142.64" r="4.45"/><circle cx="1672.97" cy="152.87" r="4.45"/><circle cx="1597.85" cy="163.39" r="4.45"/><circle cx="1610.71" cy="174.21" r="4.45"/><circle cx="1615.68" cy="185.02" r="4.45"/><circle cx="1615.97" cy="195.84" r="4.45"/><circle cx="1618.89" cy="206.65" r="4.45"/><circle cx="1626.49" cy="217.18" r="4.45"/><circle cx="1650.75" cy="227.7" r="4.45"/><circle cx="1596.09" cy="238.81" r="4.45"/><circle cx="1608.66" cy="249.33" r="4.45"/><circle cx="1629.71" cy="259.85" r="4.45"/><circle cx="1637.6" cy="270.67" r="4.45"/><circle cx="1644.03" cy="281.48" r="4.45"/><circle cx="1647.83" cy="292.3" r="4.45"/><circle cx="1614.8" cy="302.82" r="4.45"/><circle cx="1623.28" cy="313.63" r="4.45"/><circle cx="1649.29" cy="324.16" r="4.45"/></g>
<path d="M1842.51 117.5C1841.83 121.2 1841.13 124.85 1840.46 128.6C1839.77 132.44 1839.02 136.17 1838.41 140.29C1837.73 144.88 1837.28 149.63 1836.66 154.91C1835.93 161.16 1835.12 167.94 1834.32 175.37C1833.37 184.24 1832.18 194.84 1831.4 204.59C1830.62 214.32 1830.09 224.07 1829.65 233.82C1829.21 243.56 1829.02 253.31 1828.77 263.05C1828.53 272.79 1828.32 281.55 1828.18 292.28C1828 305.42 1827.94 321.09 1827.89 336.12C1827.84 352.02 1827.89 368.85 1827.89 385.22" fill="none" stroke="#ed1c24" stroke-width="6.0" stroke-linecap="round" stroke-linejoin="round"/>
<g fill="#000"><circle cx="1863.26" cy="120.13" r="4.45"/><circle cx="1820.88" cy="125.68" r="4.45"/><circle cx="1827.6" cy="130.94" r="4.45"/><circle cx="1834.61" cy="136.2" r="4.45"/><circle cx="1831.4" cy="141.75" r="4.45"/><circle cx="1827.89" cy="146.72" r="4.45"/><circle cx="1831.69" cy="151.98" r="4.45"/><circle cx="1859.17" cy="157.83" r="4.45"/><circle cx="1855.37" cy="163.09" r="4.45"/><circle cx="1830.23" cy="168.06" r="4.45"/><circle cx="1827.89" cy="173.91" r="4.45"/><circle cx="1831.98" cy="178.87" r="4.45"/><circle cx="1832.57" cy="184.43" r="4.45"/><circle cx="1844.55" cy="189.98" r="4.45"/><circle cx="1835.2" cy="194.95" r="4.45"/><circle cx="1806.85" cy="200.5" r="4.45"/><circle cx="1811.52" cy="205.76" r="4.45"/><circle cx="1861.21" cy="211.02" r="4.45"/><circle cx="1870.27" cy="216.87" r="4.45"/><circle cx="1835.2" cy="222.13" r="4.45"/><circle cx="1849.52" cy="227.1" r="4.45"/><circle cx="1832.57" cy="232.36" r="4.45"/><circle cx="1839.29" cy="237.91" r="4.45"/><circle cx="1858.58" cy="243.18" r="4.45"/><circle cx="1829.65" cy="248.44" r="4.45"/><circle cx="1799.83" cy="253.99" r="4.45"/><circle cx="1835.78" cy="258.96" r="4.45"/><circle cx="1788.73" cy="264.8" r="4.45"/><circle cx="1809.77" cy="270.06" r="4.45"/><circle cx="1805.68" cy="275.03" r="4.45"/><circle cx="1795.16" cy="280.88" r="4.45"/><circle cx="1808.02" cy="285.85" r="4.45"/><circle cx="1855.37" cy="291.4" r="4.45"/><circle cx="1825.26" cy="296.95" r="4.45"/><circle cx="1829.94" cy="302.22" r="4.45"/><circle cx="1812.4" cy="307.48" r="4.45"/><circle cx="1826.14" cy="312.74" r="4.45"/><circle cx="1842.21" cy="318.29" r="4.45"/><circle cx="1822.92" cy="323.55" r="4.45"/><circle cx="1855.95" cy="328.81" r="4.45"/><circle cx="1855.07" cy="334.07" r="4.45"/><circle cx="1820.29" cy="339.33" r="4.45"/><circle cx="1837.54" cy="345.18" r="4.45"/><circle cx="1914.99" cy="350.15" r="4.45"/><circle cx="1880.5" cy="355.7" r="4.45"/></g>
<path d="M131.33 567C135.55 567.41 139.81 567.72 144 568.24C148.15 568.75 152.49 569.21 156.37 570.09C159.92 570.9 163.57 571.73 166.41 573.18C168.85 574.42 171.17 575.99 172.6 577.82C173.85 579.41 174.39 581.33 174.91 583.23C175.44 585.19 175.19 587.38 175.69 589.41C176.21 591.5 176.87 593.56 178.01 595.6C179.33 597.95 181.3 600.26 183.42 602.55C185.84 605.16 189 607.73 191.92 610.28C194.92 612.89 198.1 615.43 201.19 618.01C204.28 620.58 207.4 623.06 210.46 625.73C213.58 628.46 216.78 631.27 219.74 634.23C222.7 637.19 225.62 640.35 228.24 643.51C230.75 646.54 233.01 649.58 235.19 652.78C237.39 656.01 239.18 658.55 241.38 662.83C244.87 669.64 249.46 681.59 252.85 690.33C255.89 698.15 258.53 705.25 260.93 712.77C263.31 720.21 265.43 727.58 267.21 735.22C269.03 743.03 270.55 751.15 271.7 759.15C272.84 767.1 273.5 775.1 274.1 783.09C274.7 791.06 275.04 798.75 275.29 807.03C275.56 815.96 275.49 825.58 275.59 834.86" fill="none" stroke="#ed1c24" stroke-width="6.0" stroke-linecap="round" stroke-linejoin="round"/>
<g fill="#000"><circle cx="131.06" cy="567.05" r="4.45"/><circle cx="160.99" cy="570.04" r="4.45"/><circle cx="170.26" cy="575.13" r="4.45"/><circle cx="168.17" cy="580.81" r="4.45"/><circle cx="175.05" cy="585.6" r="4.45"/><circle cx="186.12" cy="591.29" r="4.45"/><circle cx="193.3" cy="596.67" r="4.45"/><circle cx="198.69" cy="604.75" r="4.45"/><circle cx="202.58" cy="615.52" r="4.45"/><circle cx="203.48" cy="626.3" r="4.45"/><circle cx="210.36" cy="636.47" r="4.45"/><circle cx="219.93" cy="652.93" r="4.45"/><circle cx="230.41" cy="674.17" r="4.45"/><circle cx="248.96" cy="695.42" r="4.45"/><circle cx="262.72" cy="716.96" r="4.45"/><circle cx="270.21" cy="738.21" r="4.45"/><circle cx="269.31" cy="760.05" r="4.45"/><circle cx="276.49" cy="781.3" r="4.45"/><circle cx="281.88" cy="802.84" r="4.45"/></g>
<path d="M333.94 567.35C340.32 571.44 346.62 575.24 353.09 579.62C359.97 584.28 367.17 589.2 374.04 594.58C381.15 600.15 388.12 606.18 394.98 612.53C402.09 619.12 409.19 625.86 415.93 633.48C423.11 641.6 431.29 652.2 436.65 660C440.57 665.71 442.93 670.01 445.92 675.46C449.13 681.3 452.46 687.75 455.19 694C457.86 700.11 460 706.34 462.15 712.55C464.28 718.71 466.29 724.89 468.02 731.1C469.73 737.25 471.16 743.44 472.5 749.64C473.84 755.81 475.08 761.99 476.06 768.19C477.04 774.36 477.79 780.42 478.38 786.74C478.99 793.29 479.35 799.56 479.61 806.83C479.92 815.45 479.82 825.69 479.92 835.12" fill="none" stroke="#ed1c24" stroke-width="6.0" stroke-linecap="round" stroke-linejoin="round"/>
<g fill="#000"><circle cx="333.64" cy="567.35" r="4.45"/><circle cx="338.13" cy="569.74" r="4.45"/><circle cx="342.02" cy="575.73" r="4.45"/><circle cx="350.1" cy="580.51" r="4.45"/><circle cx="366.26" cy="588.59" r="4.45"/><circle cx="382.72" cy="599.66" r="4.45"/><circle cx="415.33" cy="615.52" r="4.45"/><circle cx="421.02" cy="636.47" r="4.45"/><circle cx="438.37" cy="658.61" r="4.45"/><circle cx="448.55" cy="679.56" r="4.45"/><circle cx="453.63" cy="698.41" r="4.45"/></g>
<path d="M538.86 567.31C542.88 567.72 546.88 567.97 550.91 568.55C555.02 569.15 559.5 569.8 563.28 570.87C566.64 571.82 569.92 572.87 572.55 574.42C574.86 575.78 576.84 577.55 578.42 579.37C579.86 581.03 580.65 582.92 581.82 584.78C583.07 586.77 584.2 588.96 585.69 590.96C587.27 593.09 589.07 595.08 591.1 597.14C593.39 599.46 596.11 601.75 598.83 604.1C601.76 606.63 604.87 609.21 608.1 611.82C611.55 614.61 615.31 617.49 618.92 620.32C622.53 623.16 626.16 625.89 629.74 628.83C633.38 631.82 637.18 634.84 640.56 638.1C643.87 641.29 647.5 644.42 649.83 648.15C652.08 651.75 652.23 656.05 654.47 660C657.11 664.64 661.96 669.05 665.29 673.91C668.66 678.83 671.75 684.01 674.56 689.37C677.42 694.82 679.96 700.66 682.29 706.37C684.59 711.99 686.61 717.54 688.47 723.37C690.39 729.38 692.07 735.71 693.57 741.92C695.06 748.08 696.29 754.27 697.43 760.46C698.56 766.63 699.6 772.81 700.37 779.01C701.14 785.18 701.66 791.37 702.07 797.56C702.48 803.74 702.68 809.89 702.84 816.11C703 822.41 702.95 828.78 703 835.12" fill="none" stroke="#ed1c24" stroke-width="6.0" stroke-linecap="round" stroke-linejoin="round"/>
<g fill="#000"><circle cx="538.9" cy="567.35" r="4.45"/><circle cx="567.33" cy="570.04" r="4.45"/><circle cx="577.2" cy="575.43" r="4.45"/><circle cx="580.19" cy="580.51" r="4.45"/><circle cx="580.49" cy="585.9" r="4.45"/><circle cx="585.58" cy="591.29" r="4.45"/><circle cx="590.97" cy="596.67" r="4.45"/><circle cx="591.27" cy="604.75" r="4.45"/><circle cx="603.53" cy="615.52" r="4.45"/><circle cx="620.59" cy="626.3" r="4.45"/><circle cx="638.24" cy="636.47" r="4.45"/><circle cx="652.61" cy="652.93" r="4.45"/><circle cx="668.47" cy="674.47" r="4.45"/><circle cx="673.25" cy="695.42" r="4.45"/><circle cx="688.81" cy="717.26" r="4.45"/><circle cx="683.13" cy="738.51" r="4.45"/><circle cx="678.64" cy="760.05" r="4.45"/><circle cx="675.35" cy="778.6" r="4.45"/></g>
<path d="M744.68 567.31C748.55 567.62 752.49 567.76 756.28 568.24C759.96 568.7 763.66 569.23 767.09 570.09C770.33 570.9 773.69 571.77 776.37 573.18C778.75 574.43 781.1 576.09 782.55 577.82C783.74 579.24 784.6 580.81 784.87 582.46C785.15 584.15 784.6 586.1 784.1 587.87C783.58 589.71 782.49 591.4 781.78 593.28C781.04 595.26 780.15 597.44 779.77 599.46C779.42 601.3 779.31 602.97 779.46 604.87C779.64 607.05 780.27 609.47 781 611.82C781.78 614.36 782.88 616.95 784.1 619.55C785.42 622.35 787.08 625.24 788.73 628.05C790.42 630.91 792.26 633.66 794.14 636.55C796.12 639.59 798.22 642.36 800.32 645.83C802.84 650.01 805.35 655.33 808.05 660C810.76 664.69 813.88 669.09 816.55 673.91C819.3 678.87 821.98 684.03 824.28 689.37C826.63 694.84 828.6 700.67 830.46 706.37C832.3 712.01 833.99 717.68 835.41 723.37C836.82 729.01 837.93 734.69 838.96 740.37C839.99 746.02 840.82 751.7 841.59 757.37C842.36 763.03 843.04 768.57 843.6 774.37C844.18 780.41 844.63 786.73 844.99 792.92C845.35 799.1 845.61 804.91 845.77 811.47C845.95 818.87 845.87 827.24 845.92 835.12" fill="none" stroke="#ed1c24" stroke-width="6.0" stroke-linecap="round" stroke-linejoin="round"/>
<g fill="#000"><circle cx="744.47" cy="567.65" r="4.45"/><circle cx="765.42" cy="570.04" r="4.45"/><circle cx="778.88" cy="575.43" r="4.45"/><circle cx="782.17" cy="580.51" r="4.45"/><circle cx="782.47" cy="585.6" r="4.45"/><circle cx="780.38" cy="591.29" r="4.45"/><circle cx="774.39" cy="596.67" r="4.45"/><circle cx="772" cy="604.75" r="4.45"/><circle cx="775.59" cy="615.52" r="4.45"/><circle cx="780.68" cy="626.3" r="4.45"/><circle cx="786.36" cy="636.47" r="4.45"/><circle cx="796.54" cy="652.93" r="4.45"/><circle cx="813.29" cy="674.47" r="4.45"/><circle cx="829.15" cy="695.72" r="4.45"/><circle cx="836.63" cy="717.26" r="4.45"/><circle cx="846.81" cy="738.51" r="4.45"/><circle cx="837.83" cy="760.05" r="4.45"/><circle cx="846.81" cy="781.6" r="4.45"/></g>
<path d="M947.93 567.31C952.57 567.72 957.35 567.99 961.84 568.55C966.09 569.08 970.41 569.63 974.2 570.56C977.55 571.38 980.9 572.27 983.48 573.65C985.64 574.8 987.8 576.18 988.89 577.82C989.8 579.19 990.16 580.86 990.12 582.46C990.08 584.2 989.2 586.05 988.42 587.87C987.55 589.9 986.06 591.97 985.02 594.05C984 596.09 982.74 598.19 982.24 600.23C981.79 602.05 981.76 603.79 981.93 605.64C982.12 607.65 982.66 609.75 983.48 611.82C984.39 614.13 985.79 616.46 987.34 618.78C989.07 621.36 991.22 623.94 993.52 626.51C996.06 629.35 999.22 632.08 1002.02 635.01C1004.89 638 1007.41 640.75 1010.53 644.28C1014.54 648.8 1019.67 655.1 1023.97 660C1027.83 664.39 1031.7 667.99 1035.1 672.36C1038.51 676.75 1041.56 681.43 1044.37 686.28C1047.23 691.21 1049.8 696.39 1052.1 701.73C1054.45 707.2 1056.42 713.03 1058.28 718.73C1060.12 724.37 1061.73 730.04 1063.23 735.73C1064.72 741.38 1066.06 747.06 1067.25 752.74C1068.43 758.39 1069.48 763.94 1070.34 769.74C1071.24 775.77 1071.93 782.09 1072.5 788.28C1073.07 794.46 1073.46 800.78 1073.74 806.83C1074.01 812.62 1074.1 818.74 1074.2 823.83C1074.29 827.98 1074.31 831.36 1074.36 835.12" fill="none" stroke="#ed1c24" stroke-width="6.0" stroke-linecap="round" stroke-linejoin="round"/>
<g fill="#000"><circle cx="947.88" cy="567.65" r="4.45"/><circle cx="975.41" cy="570.04" r="4.45"/><circle cx="985.58" cy="575.43" r="4.45"/><circle cx="986.18" cy="580.51" r="4.45"/><circle cx="985.88" cy="585.6" r="4.45"/><circle cx="982.29" cy="591.29" r="4.45"/><circle cx="976" cy="596.67" r="4.45"/><circle cx="969.12" cy="604.75" r="4.45"/><circle cx="978.7" cy="615.52" r="4.45"/><circle cx="998.45" cy="626.3" r="4.45"/><circle cx="1016.1" cy="636.47" r="4.45"/><circle cx="1031.96" cy="652.93" r="4.45"/><circle cx="1046.02" cy="674.47" r="4.45"/><circle cx="1051.71" cy="695.42" r="4.45"/><circle cx="1058.29" cy="717.26" r="4.45"/><circle cx="1064.58" cy="738.51" r="4.45"/><circle cx="1069.66" cy="760.05" r="4.45"/></g>
<path d="M1151.13 567.31C1154.63 567.83 1158.26 568.19 1161.64 568.86C1164.84 569.49 1167.92 570.18 1170.91 571.17C1173.84 572.14 1176.99 573.24 1179.41 574.73C1181.54 576.04 1183.52 577.59 1184.82 579.37C1186.01 580.98 1186.67 582.88 1187.14 584.78C1187.62 586.73 1187.57 588.84 1187.6 590.96C1187.64 593.21 1187.31 595.53 1187.3 597.91C1187.29 600.42 1187.25 603.08 1187.6 605.64C1187.96 608.23 1188.57 610.78 1189.46 613.37C1190.43 616.18 1191.84 619.01 1193.32 621.87C1194.9 624.93 1196.75 628.03 1198.73 631.14C1200.85 634.46 1203.27 637.87 1205.69 641.19C1208.16 644.57 1211.15 647.95 1213.42 651.24C1215.47 654.21 1216.7 656.88 1218.83 660C1221.43 663.82 1225.12 667.93 1228.1 672.36C1231.32 677.15 1234.56 682.46 1237.37 687.82C1240.23 693.27 1242.77 699.11 1245.1 704.82C1247.4 710.44 1249.47 716.11 1251.28 721.82C1253.07 727.45 1254.5 733.15 1255.92 738.83C1257.33 744.48 1258.7 750.14 1259.78 755.83C1260.86 761.48 1261.72 767.03 1262.41 772.83C1263.13 778.87 1263.6 785.19 1263.96 791.38C1264.32 797.56 1264.44 803.27 1264.57 809.92C1264.72 817.68 1264.68 826.72 1264.73 835.12" fill="none" stroke="#ed1c24" stroke-width="6.0" stroke-linecap="round" stroke-linejoin="round"/>
<g fill="#000"><circle cx="1151.35" cy="567.65" r="4.45"/><circle cx="1171.7" cy="570.04" r="4.45"/><circle cx="1183.67" cy="575.43" r="4.45"/><circle cx="1184.27" cy="580.51" r="4.45"/><circle cx="1184.27" cy="585.6" r="4.45"/><circle cx="1183.67" cy="591.29" r="4.45"/><circle cx="1182.17" cy="596.67" r="4.45"/><circle cx="1182.77" cy="604.75" r="4.45"/><circle cx="1180.38" cy="615.52" r="4.45"/><circle cx="1184.57" cy="626.3" r="4.45"/><circle cx="1199.23" cy="636.47" r="4.45"/><circle cx="1214.79" cy="652.63" r="4.45"/><circle cx="1229.45" cy="674.47" r="4.45"/><circle cx="1242.32" cy="695.42" r="4.45"/><circle cx="1246.21" cy="717.26" r="4.45"/><circle cx="1253.09" cy="738.21" r="4.45"/><circle cx="1261.47" cy="760.05" r="4.45"/></g>
<path d="M1352.52 566.69C1356.38 567.05 1360.19 567.34 1364.11 567.77C1368.17 568.21 1372.51 568.65 1376.48 569.32C1380.22 569.95 1384.04 570.64 1387.3 571.64C1390.13 572.5 1392.77 573.37 1395.02 574.73C1397.1 575.99 1399.13 577.59 1400.43 579.37C1401.62 580.98 1402.43 582.88 1402.75 584.78C1403.08 586.73 1402.65 588.86 1402.29 590.96C1401.91 593.23 1401 595.59 1400.43 597.91C1399.86 600.22 1399.07 602.54 1398.89 604.87C1398.71 607.18 1398.99 609.46 1399.35 611.82C1399.73 614.34 1400.32 616.96 1401.21 619.55C1402.18 622.36 1403.59 625.19 1405.07 628.05C1406.65 631.12 1408.53 634.14 1410.48 637.33C1412.62 640.82 1415.17 644.43 1417.43 648.15C1419.76 651.98 1421.68 655.83 1424.23 660C1427.19 664.85 1431.04 670.28 1434.28 675.46C1437.48 680.58 1440.74 685.55 1443.55 690.91C1446.41 696.36 1448.95 702.2 1451.28 707.91C1453.58 713.53 1455.66 719.2 1457.47 724.91C1459.26 730.54 1460.76 736.23 1462.1 741.92C1463.43 747.56 1464.52 753.24 1465.5 758.92C1466.48 764.57 1467.31 770.24 1467.98 775.92C1468.65 781.58 1469.11 787.13 1469.52 792.92C1469.95 798.96 1470.24 804.91 1470.45 811.47C1470.68 818.87 1470.66 827.24 1470.76 835.12" fill="none" stroke="#ed1c24" stroke-width="6.0" stroke-linecap="round" stroke-linejoin="round"/>
<g fill="#000"><circle cx="1352.66" cy="567.35" r="4.45"/><circle cx="1397.85" cy="572.73" r="4.45"/><circle cx="1388.87" cy="577.82" r="4.45"/><circle cx="1405.03" cy="583.51" r="4.45"/><circle cx="1411.61" cy="588.59" r="4.45"/><circle cx="1411.91" cy="593.68" r="4.45"/><circle cx="1401.74" cy="599.36" r="4.45"/><circle cx="1388.57" cy="604.45" r="4.45"/><circle cx="1416.1" cy="610.14" r="4.45"/><circle cx="1392.76" cy="615.52" r="4.45"/><circle cx="1390.67" cy="620.61" r="4.45"/><circle cx="1389.77" cy="626" r="4.45"/><circle cx="1402.04" cy="631.68" r="4.45"/><circle cx="1395.16" cy="636.47" r="4.45"/><circle cx="1398.75" cy="642.15" r="4.45"/><circle cx="1414.9" cy="647.24" r="4.45"/><circle cx="1412.81" cy="652.63" r="4.45"/><circle cx="1434.95" cy="663.4" r="4.45"/><circle cx="1443.93" cy="674.17" r="4.45"/><circle cx="1436.75" cy="684.94" r="4.45"/><circle cx="1494.8" cy="706.49" r="4.45"/><circle cx="1437.35" cy="717.26" r="4.45"/><circle cx="1471.46" cy="727.73" r="4.45"/><circle cx="1477.74" cy="738.21" r="4.45"/><circle cx="1425.08" cy="760.05" r="4.45"/><circle cx="1448.72" cy="770.52" r="4.45"/><circle cx="1509.16" cy="781" r="4.45"/><circle cx="1477.74" cy="791.77" r="4.45"/><circle cx="1450.21" cy="813.31" r="4.45"/><circle cx="1456.5" cy="824.09" r="4.45"/><circle cx="1494.2" cy="834.86" r="4.45"/></g>
<path d="M1560.87 567.31C1564.22 567.72 1567.72 567.92 1570.91 568.55C1573.88 569.14 1576.86 569.81 1579.41 570.87C1581.7 571.82 1583.92 573.02 1585.6 574.42C1587.07 575.65 1588.45 577.26 1589.15 578.59C1589.66 579.55 1589.66 580.45 1589.92 581.38C1588.74 583.28 1587.53 585.01 1586.37 587.09C1585.05 589.44 1583.65 592.15 1582.5 594.82C1581.32 597.55 1580.18 600.45 1579.41 603.32C1578.65 606.12 1578.06 609.04 1577.87 611.82C1577.69 614.45 1577.84 616.87 1578.18 619.55C1578.56 622.52 1579.28 625.65 1580.19 628.83C1581.19 632.33 1582.58 635.94 1584.05 639.64C1585.64 643.65 1587.94 648.32 1589.46 652.01C1590.67 654.95 1591.07 656.97 1592.55 660C1594.7 664.39 1599.05 669.97 1601.82 675.46C1604.75 681.26 1607.22 687.78 1609.55 694C1611.85 700.14 1613.97 706.33 1615.73 712.55C1617.47 718.69 1618.77 724.9 1620.06 731.1C1621.34 737.27 1622.51 743.45 1623.46 749.64C1624.41 755.81 1625.21 762 1625.78 768.19C1626.35 774.36 1626.6 780.43 1626.86 786.74C1627.13 793.3 1627.23 799.56 1627.33 806.83C1627.45 815.45 1627.43 825.69 1627.48 835.12" fill="none" stroke="#ed1c24" stroke-width="6.0" stroke-linecap="round" stroke-linejoin="round"/>
<g fill="#000"><circle cx="1560.93" cy="567.65" r="4.45"/><circle cx="1578.88" cy="570.04" r="4.45"/><circle cx="1588.16" cy="575.43" r="4.45"/><circle cx="1591.45" cy="580.51" r="4.45"/><circle cx="1595.04" cy="585.9" r="4.45"/><circle cx="1599.53" cy="591.58" r="4.45"/><circle cx="1590.55" cy="596.67" r="4.45"/><circle cx="1585.77" cy="604.75" r="4.45"/><circle cx="1577.99" cy="615.82" r="4.45"/><circle cx="1577.39" cy="626.3" r="4.45"/><circle cx="1580.38" cy="636.47" r="4.45"/><circle cx="1588.46" cy="652.93" r="4.45"/><circle cx="1598.33" cy="674.47" r="4.45"/><circle cx="1590.85" cy="695.72" r="4.45"/><circle cx="1609.11" cy="717.26" r="4.45"/><circle cx="1624.37" cy="738.51" r="4.45"/><circle cx="1627.96" cy="760.05" r="4.45"/></g>
<path d="M1765.66 567.31C1770.3 567.72 1775.08 567.99 1779.57 568.55C1783.82 569.08 1788.14 569.63 1791.93 570.56C1795.28 571.38 1798.71 572.25 1801.21 573.65C1803.25 574.79 1805.06 576.31 1806.15 577.82C1807.02 579.03 1807.18 580.39 1807.7 581.68C1805.54 584 1803.3 586.22 1801.21 588.64C1799.07 591.11 1796.88 593.66 1795.02 596.37C1793.17 599.07 1791.43 601.98 1790.08 604.87C1788.78 607.65 1787.71 610.5 1786.99 613.37C1786.29 616.17 1785.88 619.03 1785.75 621.87C1785.62 624.7 1785.84 627.49 1786.21 630.37C1786.59 633.41 1787.29 636.45 1788.07 639.64C1788.92 643.12 1790.38 646.94 1791.16 650.46C1791.89 653.72 1791.73 656.35 1792.7 660C1794.09 665.22 1797.5 672.21 1799.66 678.55C1801.89 685.08 1803.9 691.93 1805.84 698.64C1807.77 705.32 1809.68 712.14 1811.25 718.73C1812.75 725.01 1813.96 731.08 1815.12 737.28C1816.28 743.45 1817.39 749.63 1818.21 755.83C1819.03 762 1819.6 768.18 1820.06 774.37C1820.52 780.55 1820.78 786.5 1820.99 792.92C1821.21 799.85 1821.22 807.44 1821.3 814.56C1821.38 821.5 1821.4 828.27 1821.45 835.12" fill="none" stroke="#ed1c24" stroke-width="6.0" stroke-linecap="round" stroke-linejoin="round"/>
<g fill="#000"><circle cx="1765.65" cy="567.65" r="4.45"/><circle cx="1787.19" cy="570.04" r="4.45"/><circle cx="1794.67" cy="575.43" r="4.45"/><circle cx="1804.55" cy="580.51" r="4.45"/><circle cx="1807.24" cy="585.9" r="4.45"/><circle cx="1805.74" cy="591.29" r="4.45"/><circle cx="1803.95" cy="596.67" r="4.45"/><circle cx="1800.36" cy="604.75" r="4.45"/><circle cx="1797.06" cy="615.82" r="4.45"/><circle cx="1791.68" cy="626.3" r="4.45"/><circle cx="1780.91" cy="636.47" r="4.45"/><circle cx="1781.8" cy="652.93" r="4.45"/><circle cx="1790.78" cy="674.47" r="4.45"/><circle cx="1802.45" cy="695.42" r="4.45"/><circle cx="1811.43" cy="717.26" r="4.45"/><circle cx="1816.22" cy="738.51" r="4.45"/><circle cx="1820.11" cy="760.05" r="4.45"/><circle cx="1817.71" cy="781.3" r="4.45"/></g>
<path d="M282.33 1066.23C276.41 1066.74 270.28 1067.24 264.56 1067.77C259.23 1068.27 254.25 1068.8 249.1 1069.32C243.95 1069.84 238.8 1070.3 233.65 1070.87C228.49 1071.44 223.34 1072.03 218.19 1072.72C213.03 1073.42 207.88 1074.14 202.74 1075.04C197.58 1075.94 192.12 1076.95 187.28 1078.13C182.9 1079.19 178.87 1080.35 174.91 1081.68C171.16 1082.94 167.5 1084.2 164.1 1085.86C160.82 1087.46 157.62 1089.44 154.82 1091.42C152.26 1093.22 149.94 1095.01 147.87 1097.14C145.82 1099.24 143.94 1101.62 142.46 1104.1C141.01 1106.52 140.05 1109.22 139.06 1111.82C138.09 1114.37 137.3 1116.96 136.58 1119.55C135.86 1122.11 135.28 1124.58 134.73 1127.28C134.13 1130.22 133.64 1133.46 133.18 1136.55C132.72 1139.64 132.32 1142.61 131.95 1145.83C131.55 1149.3 131.18 1153.04 130.87 1156.65C130.56 1160.25 130.27 1163.63 130.09 1167.47C129.89 1171.81 129.86 1174.26 129.78 1181.38C129.5 1204.92 129.66 1282.73 129.6 1333.4" fill="none" stroke="#000" stroke-width="6.0" stroke-linecap="round" stroke-linejoin="round"/>
<path d="M237.05 1065.92C236.95 1067.31 237.15 1068.61 236.74 1070.09C236.21 1072 235.03 1074.25 233.65 1076.28C232.05 1078.64 229.87 1081.03 227.47 1083.23C224.79 1085.69 221.45 1087.93 218.19 1090.19C214.76 1092.57 211.13 1094.88 207.37 1097.14C203.42 1099.52 199.13 1101.78 195.01 1104.1C190.89 1106.42 186.76 1108.73 182.64 1111.05C178.52 1113.37 174.23 1115.63 170.28 1118.01C166.52 1120.27 162.89 1122.58 159.46 1124.96C156.21 1127.22 153.06 1129.43 150.19 1131.92C147.4 1134.34 144.71 1136.96 142.46 1139.64C140.37 1142.13 138.51 1144.57 137.05 1147.37C135.56 1150.23 134.56 1153.53 133.65 1156.65C132.76 1159.71 132.15 1162.7 131.64 1165.92C131.1 1169.37 130.82 1173.01 130.56 1176.74C130.29 1180.72 130.22 1184.75 130.09 1189.1C129.95 1193.96 129.86 1196.9 129.78 1204.56C129.54 1226.66 129.66 1290.45 129.6 1333.4" fill="none" stroke="#f26522" stroke-width="6.0" stroke-linecap="round" stroke-linejoin="round"/>
<path d="M267.65 1065.92C267.65 1070.92 267.9 1075.88 267.65 1080.91C267.4 1086.03 266.88 1091.24 266.11 1096.37C265.34 1101.54 264.17 1106.68 263.01 1111.82C261.85 1116.99 260.56 1122.14 259.15 1127.28C257.73 1132.45 256.18 1137.61 254.51 1142.74C252.83 1147.91 251.02 1153.06 249.1 1158.19C247.16 1163.36 245.1 1168.52 242.92 1173.65C240.72 1178.82 238.8 1182.72 235.97 1189.1C231.39 1199.4 223.04 1218.57 218.19 1229.6C214.84 1237.22 212.55 1242.56 209.69 1248.92C206.88 1255.18 204.02 1261.29 201.19 1267.47C198.36 1273.65 195.4 1279.81 192.69 1286.01C190 1292.17 187.46 1298.51 184.96 1304.56C182.57 1310.35 179.92 1316.41 178.01 1321.56C176.45 1325.76 175.43 1329.29 174.14 1333.15" fill="none" stroke="#129a47" stroke-width="6.0" stroke-linecap="round" stroke-linejoin="round"/>
<path d="M338.24 1065.92C338.03 1068.34 337.86 1070.61 337.62 1073.18C337.35 1076.08 337.03 1079.25 336.69 1082.46C336.32 1085.93 335.89 1089.81 335.46 1093.28C335.06 1096.49 334.5 1099.23 334.22 1102.55C333.89 1106.37 333.89 1108.25 333.76 1114.91C333.23 1142.9 333.65 1260.57 333.6 1333.4" fill="none" stroke="#000" stroke-width="6.0" stroke-linecap="round" stroke-linejoin="round"/>
<path d="M413.2 1065.92C412.94 1066.69 412.97 1067.47 412.43 1068.24C411.62 1069.39 409.9 1070.58 408.1 1071.64C405.67 1073.07 402.17 1074.28 398.83 1075.5C395.03 1076.88 390.58 1078.08 386.46 1079.37C382.34 1080.66 378.22 1081.94 374.1 1083.23C369.98 1084.52 365.7 1085.76 361.73 1087.09C357.99 1088.34 354.18 1089.57 350.91 1090.96C348.08 1092.17 345.45 1093.32 343.18 1094.82C341.12 1096.19 339.14 1097.63 337.77 1099.46C336.43 1101.25 335.63 1103.42 334.99 1105.64C334.3 1108.03 334.15 1110.41 333.91 1113.37C333.59 1117.32 333.68 1119.92 333.6 1127.28C333.28 1155.62 333.6 1264.69 333.6 1333.4" fill="none" stroke="#f26522" stroke-width="6.0" stroke-linecap="round" stroke-linejoin="round"/>
<path d="M420 1065.92C419.9 1067.05 419.97 1068.08 419.69 1069.32C419.32 1070.94 418.69 1072.95 417.68 1074.73C416.5 1076.82 414.62 1078.93 412.74 1080.91C410.7 1083.06 408.27 1085.09 405.78 1087.09C403.14 1089.22 400.2 1091.25 397.28 1093.28C394.28 1095.37 391.1 1097.4 388.01 1099.46C384.92 1101.52 381.82 1103.58 378.73 1105.64C375.64 1107.7 372.43 1109.62 369.46 1111.82C366.51 1114 363.67 1116.33 360.96 1118.78C358.26 1121.23 355.63 1123.8 353.23 1126.51C350.84 1129.21 348.52 1132.03 346.58 1135.01C344.67 1137.95 343.08 1141.01 341.64 1144.28C340.13 1147.7 338.8 1151.46 337.77 1155.1C336.75 1158.67 336.05 1162.18 335.46 1165.92C334.84 1169.89 334.5 1174.03 334.22 1178.28C333.92 1182.77 333.86 1187.13 333.76 1192.19C333.64 1198.27 333.64 1202.77 333.6 1212.29C333.51 1235.66 333.6 1293.03 333.6 1333.4" fill="none" stroke="#129a47" stroke-width="6.0" stroke-linecap="round" stroke-linejoin="round"/>
<path d="M656.01 1065.92C651.89 1066.38 648 1066.78 643.65 1067.31C638.78 1067.9 633.33 1068.55 628.19 1069.32C623.03 1070.09 617.88 1071 612.74 1071.95C607.58 1072.9 602.12 1073.86 597.28 1075.04C592.9 1076.1 588.87 1077.26 584.91 1078.59C581.16 1079.85 577.52 1081.18 574.1 1082.77C570.84 1084.29 567.62 1086.02 564.82 1087.87C562.26 1089.55 559.96 1091.31 557.87 1093.28C555.85 1095.18 554.02 1097.25 552.46 1099.46C550.93 1101.63 549.65 1103.92 548.59 1106.41C547.46 1109.05 546.73 1112 545.97 1114.91C545.18 1117.92 544.54 1120.97 543.96 1124.19C543.34 1127.65 542.91 1131.28 542.41 1135.01C541.88 1138.99 541.38 1143.25 540.87 1147.37C540.35 1151.49 539.77 1155.75 539.32 1159.74C538.9 1163.46 538.51 1166.63 538.24 1170.56C537.91 1175.25 537.78 1178.23 537.62 1186.01C537.12 1210.04 537.47 1284.27 537.4 1333.4" fill="none" stroke="#000" stroke-width="6.0" stroke-linecap="round" stroke-linejoin="round"/>
<path d="M628.19 1065.92C628.09 1067.31 628.26 1068.6 627.88 1070.09C627.4 1071.99 626.33 1074.23 625.1 1076.28C623.69 1078.61 621.77 1081 619.69 1083.23C617.43 1085.65 614.71 1087.93 611.96 1090.19C609.06 1092.57 605.86 1094.85 602.69 1097.14C599.43 1099.49 596.07 1101.81 592.64 1104.1C589.12 1106.45 585.34 1108.7 581.82 1111.05C578.39 1113.34 574.94 1115.63 571.78 1118.01C568.78 1120.27 565.92 1122.57 563.28 1124.96C560.78 1127.22 558.44 1129.46 556.32 1131.92C554.22 1134.35 552.3 1137.01 550.6 1139.64C548.97 1142.16 547.5 1144.61 546.28 1147.37C545 1150.27 544.09 1153.54 543.18 1156.65C542.29 1159.72 541.5 1162.69 540.87 1165.92C540.19 1169.37 539.75 1173.01 539.32 1176.74C538.86 1180.72 538.52 1184.75 538.24 1189.1C537.93 1193.96 537.75 1199.41 537.62 1204.56C537.49 1209.71 537.51 1212.49 537.47 1220.02C537.36 1240.4 537.42 1295.61 537.4 1333.4" fill="none" stroke="#f26522" stroke-width="6.0" stroke-linecap="round" stroke-linejoin="round"/>
<path d="M681.05 1065.92C681.05 1070.92 681.23 1075.88 681.05 1080.91C680.87 1086.03 680.53 1091.23 679.97 1096.37C679.4 1101.53 678.67 1106.69 677.65 1111.82C676.62 1117 675.2 1122.14 673.79 1127.28C672.37 1132.45 670.94 1137.63 669.15 1142.74C667.34 1147.93 665.15 1153.06 662.97 1158.19C660.77 1163.37 658.45 1168.52 656.01 1173.65C653.55 1178.83 651.46 1182.65 648.28 1189.1C643 1199.8 633.18 1220.48 627.42 1231.92C623.52 1239.66 620.63 1244.85 617.37 1251.24C614.19 1257.47 611.1 1263.65 608.1 1269.78C605.18 1275.76 602.34 1281.69 599.6 1287.56C596.93 1293.28 594.33 1298.87 591.87 1304.56C589.43 1310.2 586.75 1316.4 584.91 1321.56C583.41 1325.75 582.54 1329.29 581.36 1333.15" fill="none" stroke="#129a47" stroke-width="6.0" stroke-linecap="round" stroke-linejoin="round"/>
<path d="M865.24 1065.92C860.35 1066.38 855.52 1066.83 850.56 1067.31C845.47 1067.81 840.25 1068.27 835.1 1068.86C829.94 1069.45 824.79 1070.15 819.64 1070.87C814.49 1071.59 809.04 1072.27 804.19 1073.18C799.82 1074 795.79 1074.96 791.82 1075.97C788.08 1076.93 784.44 1077.88 781 1079.06C777.76 1080.17 774.63 1081.33 771.73 1082.77C768.98 1084.13 766.31 1085.64 764 1087.4C761.81 1089.06 759.82 1090.93 758.13 1092.97C756.48 1094.96 755.15 1097.14 753.96 1099.46C752.72 1101.87 751.75 1104.46 750.87 1107.19C749.93 1110.11 749.23 1113.24 748.55 1116.46C747.82 1119.91 747.2 1123.54 746.69 1127.28C746.15 1131.25 745.84 1135.4 745.46 1139.64C745.06 1144.14 744.68 1148.91 744.37 1153.55C744.06 1158.19 743.83 1162.83 743.6 1167.47C743.37 1172.11 743.34 1176.16 742.98 1181.38C742.52 1188.13 741.34 1193.69 740.82 1204.56C739.59 1230.13 740.54 1290.45 740.4 1333.4" fill="none" stroke="#000" stroke-width="6.0" stroke-linecap="round" stroke-linejoin="round"/>
<path d="M813 1065.92C813 1067.31 813.13 1068.57 813 1070.09C812.84 1071.96 812.47 1074.07 811.92 1076.28C811.26 1078.91 810.27 1081.99 809.13 1084.78C807.96 1087.65 806.54 1090.42 804.96 1093.28C803.27 1096.34 801.27 1099.49 799.24 1102.55C797.16 1105.68 794.86 1108.74 792.6 1111.82C790.32 1114.93 788.02 1118.03 785.64 1121.1C783.23 1124.21 780.61 1127.25 778.22 1130.37C775.87 1133.44 773.66 1136.54 771.42 1139.64C769.18 1142.73 766.86 1145.79 764.78 1148.92C762.75 1151.98 760.87 1155.08 759.06 1158.19C757.27 1161.26 755.5 1164.27 753.96 1167.47C752.4 1170.71 751 1174.13 749.78 1177.51C748.58 1180.83 747.58 1184.13 746.69 1187.56C745.77 1191.08 745.03 1194.64 744.37 1198.38C743.67 1202.35 743.16 1206.61 742.67 1210.74C742.18 1214.86 741.78 1218.67 741.44 1223.11C741.04 1228.29 740.73 1232.06 740.51 1239.95C739.99 1258.51 740.44 1302.25 740.4 1333.4" fill="none" stroke="#f26522" stroke-width="6.0" stroke-linecap="round" stroke-linejoin="round"/>
<path d="M759.83 1065.92C759.78 1067.31 759.9 1068.5 759.68 1070.09C759.38 1072.29 758.63 1075.15 757.82 1077.82C756.92 1080.79 755.69 1084.03 754.42 1087.09C753.12 1090.21 751.46 1093.26 750.09 1096.37C748.73 1099.45 747.39 1102.53 746.23 1105.64C745.08 1108.71 743.95 1111.67 743.14 1114.91C742.28 1118.35 741.74 1121.99 741.28 1125.73C740.79 1129.7 740.57 1133.48 740.36 1138.1C740.1 1143.99 740.12 1148.18 740.05 1158.19C739.83 1187.74 740.15 1275 740.2 1333.4" fill="none" stroke="#129a47" stroke-width="6.0" stroke-linecap="round" stroke-linejoin="round"/>
<path d="M1108.05 1065.92C1102.8 1066.28 1097.52 1066.61 1092.29 1067C1087.11 1067.39 1081.98 1067.78 1076.83 1068.24C1071.68 1068.7 1066.53 1069.21 1061.38 1069.78C1056.22 1070.35 1051.07 1071 1045.92 1071.64C1040.77 1072.29 1035.47 1072.91 1030.46 1073.65C1025.69 1074.36 1021.04 1075.12 1016.55 1075.97C1012.3 1076.77 1008.3 1077.59 1004.19 1078.59C1000.05 1079.6 995.78 1080.74 991.82 1081.99C988.07 1083.17 984.34 1084.37 981 1085.86C977.94 1087.23 975.13 1088.77 972.5 1090.49C969.99 1092.13 967.64 1093.93 965.55 1095.9C963.53 1097.81 961.69 1099.88 960.14 1102.09C958.61 1104.26 957.37 1106.58 956.28 1109.04C955.14 1111.61 954.25 1114.39 953.49 1117.23C952.69 1120.2 952.19 1123.29 951.64 1126.51C951.05 1129.97 950.52 1133.54 950.09 1137.33C949.62 1141.49 949.32 1146.02 949.01 1150.46C948.7 1155.03 948.5 1159.73 948.24 1164.37C947.98 1169.01 947.75 1173.94 947.47 1178.28C947.23 1182.11 946.99 1184.81 946.69 1189.1C946.26 1195.37 945.52 1201.53 945.15 1212.29C944.3 1236.86 944.92 1293.03 944.8 1333.4" fill="none" stroke="#000" stroke-width="6.0" stroke-linecap="round" stroke-linejoin="round"/>
<path d="M1054.11 1065.92C1054.11 1067.05 1054.24 1068.03 1054.11 1069.32C1053.93 1071.08 1053.53 1073.42 1052.87 1075.5C1052.14 1077.79 1051.03 1080.19 1049.78 1082.46C1048.47 1084.83 1046.89 1087.15 1045.15 1089.41C1043.31 1091.8 1041.2 1094.11 1038.96 1096.37C1036.59 1098.76 1033.9 1101.03 1031.24 1103.32C1028.5 1105.67 1025.66 1107.99 1022.74 1110.28C1019.74 1112.63 1016.55 1114.91 1013.46 1117.23C1010.37 1119.55 1007.28 1121.87 1004.19 1124.19C1001.1 1126.51 997.95 1128.77 994.91 1131.14C991.87 1133.51 988.82 1135.93 985.95 1138.41C983.16 1140.83 980.5 1143.29 977.91 1145.83C975.35 1148.34 972.84 1150.94 970.49 1153.55C968.21 1156.09 965.98 1158.57 964 1161.28C962.02 1163.98 960.21 1166.9 958.59 1169.78C957.02 1172.57 955.62 1175.34 954.42 1178.28C953.2 1181.27 952.22 1184.38 951.33 1187.56C950.41 1190.82 949.67 1194.12 949.01 1197.6C948.31 1201.31 947.8 1205.27 947.31 1209.2C946.81 1213.25 946.39 1217.03 946.07 1221.56C945.68 1227.08 945.5 1231.45 945.3 1239.95C944.85 1259.09 944.97 1302.25 944.8 1333.4" fill="none" stroke="#f26522" stroke-width="6.0" stroke-linecap="round" stroke-linejoin="round"/>
<path d="M1011.14 1065.92C1010.99 1067.05 1011.13 1068.13 1010.68 1069.32C1010.08 1070.91 1008.72 1072.8 1007.28 1074.42C1005.62 1076.28 1003.38 1077.97 1001.1 1079.68C998.55 1081.59 995.51 1083.39 992.6 1085.24C989.59 1087.15 986.42 1089.1 983.32 1090.96C980.24 1092.81 977.08 1094.5 974.05 1096.37C971.05 1098.22 968.01 1100.1 965.24 1102.09C962.61 1103.98 960.01 1105.87 957.82 1107.96C955.77 1109.91 953.96 1111.93 952.41 1114.14C950.88 1116.32 949.58 1118.66 948.55 1121.1C947.51 1123.56 946.79 1126.11 946.23 1128.83C945.63 1131.75 945.38 1134.78 945.15 1138.1C944.88 1141.92 944.92 1145.7 944.84 1150.46C944.74 1156.98 944.72 1162.46 944.68 1173.65C944.58 1203.03 944.69 1280.15 944.7 1333.4" fill="none" stroke="#129a47" stroke-width="6.0" stroke-linecap="round" stroke-linejoin="round"/>
<path d="M1238.96 1065.92C1235.61 1066.28 1232.44 1066.55 1228.92 1067C1225.01 1067.5 1220.66 1068.14 1216.55 1068.86C1212.42 1069.58 1208.3 1070.41 1204.19 1071.33C1200.06 1072.26 1195.78 1073.25 1191.82 1074.42C1188.07 1075.53 1184.34 1076.71 1181 1078.13C1177.95 1079.42 1175.08 1080.78 1172.5 1082.46C1170.06 1084.05 1167.82 1085.89 1165.86 1087.87C1163.98 1089.77 1162.31 1091.85 1160.91 1094.05C1159.53 1096.23 1158.45 1098.52 1157.51 1101C1156.51 1103.65 1155.77 1106.53 1155.19 1109.51C1154.56 1112.7 1154.29 1116.02 1153.96 1119.55C1153.6 1123.45 1153.38 1127.67 1153.18 1131.92C1152.96 1136.42 1152.85 1141.07 1152.72 1145.83C1152.59 1150.84 1152.51 1155.79 1152.41 1161.28C1152.3 1167.54 1152.57 1174.45 1152.1 1181.38C1151.6 1188.84 1149.99 1193.68 1149.32 1204.56C1147.75 1230.11 1149.04 1290.45 1148.9 1333.4" fill="none" stroke="#000" stroke-width="6.0" stroke-linecap="round" stroke-linejoin="round"/>
<path d="M1211.92 1065.92C1211.92 1067.31 1212 1068.57 1211.92 1070.09C1211.83 1071.95 1211.62 1074.16 1211.3 1076.28C1210.96 1078.54 1210.5 1080.87 1209.91 1083.23C1209.28 1085.75 1208.5 1088.34 1207.59 1090.96C1206.62 1093.75 1205.44 1096.58 1204.19 1099.46C1202.87 1102.5 1201.39 1105.66 1199.86 1108.73C1198.3 1111.84 1196.63 1114.93 1194.91 1118.01C1193.18 1121.12 1191.36 1124.2 1189.51 1127.28C1187.65 1130.38 1185.72 1133.46 1183.79 1136.55C1181.85 1139.65 1179.8 1142.72 1177.91 1145.83C1176.04 1148.9 1174.23 1151.99 1172.5 1155.1C1170.79 1158.17 1169.11 1161.26 1167.56 1164.37C1166.03 1167.44 1164.6 1170.54 1163.23 1173.65C1161.87 1176.73 1160.53 1179.81 1159.37 1182.92C1158.22 1185.99 1157.17 1189.02 1156.28 1192.19C1155.36 1195.45 1154.65 1198.82 1153.96 1202.24C1153.25 1205.77 1152.61 1209.38 1152.1 1213.06C1151.57 1216.85 1151.19 1220.51 1150.87 1224.65C1150.5 1229.39 1150.32 1232.69 1150.09 1239.95C1149.52 1257.89 1149.3 1302.25 1148.9 1333.4" fill="none" stroke="#f26522" stroke-width="6.0" stroke-linecap="round" stroke-linejoin="round"/>
<path d="M1232.01 1065.92C1231.86 1067.05 1231.97 1068.17 1231.55 1069.32C1231.05 1070.69 1230.15 1072.2 1228.92 1073.49C1227.4 1075.09 1225.08 1076.49 1222.74 1077.82C1220.02 1079.36 1216.69 1080.62 1213.46 1081.99C1210.01 1083.46 1206.25 1084.9 1202.64 1086.32C1199.04 1087.73 1195.42 1089.08 1191.82 1090.49C1188.21 1091.91 1184.52 1093.3 1181 1094.82C1177.57 1096.3 1174.13 1097.81 1170.96 1099.46C1167.97 1101.02 1164.98 1102.56 1162.46 1104.4C1160.14 1106.09 1157.98 1107.9 1156.28 1109.97C1154.66 1111.94 1153.43 1114.13 1152.41 1116.46C1151.35 1118.86 1150.63 1121.47 1150.09 1124.19C1149.51 1127.11 1149.38 1130.14 1149.17 1133.46C1148.93 1137.28 1148.94 1139.27 1148.86 1145.83C1148.54 1171.38 1148.89 1270.88 1148.9 1333.4" fill="none" stroke="#129a47" stroke-width="6.0" stroke-linecap="round" stroke-linejoin="round"/>
<path d="M1464.42 1065.92C1460.04 1066.38 1455.59 1066.81 1451.28 1067.31C1447.09 1067.79 1443.04 1068.27 1438.92 1068.86C1434.79 1069.45 1430.67 1070.15 1426.55 1070.87C1422.42 1071.59 1418.3 1072.28 1414.19 1073.18C1410.05 1074.08 1405.78 1075.08 1401.82 1076.28C1398.06 1077.42 1394.43 1078.68 1391 1080.14C1387.75 1081.53 1384.52 1083.02 1381.73 1084.78C1379.16 1086.4 1376.91 1088.23 1374.78 1090.19C1372.7 1092.1 1370.7 1094.15 1369.06 1096.37C1367.46 1098.54 1366.18 1100.83 1365.04 1103.32C1363.83 1105.96 1362.92 1108.9 1362.1 1111.82C1361.26 1114.82 1360.62 1117.87 1360.09 1121.1C1359.52 1124.55 1359.19 1128.19 1358.86 1131.92C1358.51 1135.9 1358.33 1140.04 1358.08 1144.28C1357.81 1148.78 1357.54 1153.43 1357.31 1158.19C1357.07 1163.21 1356.9 1168.5 1356.69 1173.65C1356.48 1178.8 1356.48 1183.44 1356.07 1189.1C1355.56 1196.06 1354.21 1201.51 1353.6 1212.29C1352.2 1236.85 1353 1293.03 1352.7 1333.4" fill="none" stroke="#000" stroke-width="6.0" stroke-linecap="round" stroke-linejoin="round"/>
<path d="M1408.93 1065.92C1408.93 1067.31 1408.99 1068.49 1408.93 1070.09C1408.84 1072.27 1408.74 1075.14 1408.32 1077.82C1407.86 1080.79 1407.02 1083.96 1406.15 1087.09C1405.23 1090.39 1404.14 1093.82 1402.91 1097.14C1401.67 1100.52 1400.24 1103.86 1398.73 1107.19C1397.2 1110.56 1395.51 1113.9 1393.79 1117.23C1392.06 1120.6 1390.18 1123.93 1388.38 1127.28C1386.58 1130.63 1384.77 1133.98 1382.97 1137.33C1381.17 1140.68 1379.32 1144.01 1377.56 1147.37C1375.81 1150.71 1374.09 1154.05 1372.46 1157.42C1370.84 1160.76 1369.29 1164.11 1367.82 1167.47C1366.36 1170.8 1364.92 1174.14 1363.65 1177.51C1362.4 1180.84 1361.27 1184.13 1360.25 1187.56C1359.2 1191.08 1358.26 1194.7 1357.47 1198.38C1356.66 1202.16 1355.99 1205.97 1355.46 1209.97C1354.89 1214.2 1354.55 1218.45 1354.22 1223.11C1353.85 1228.37 1353.66 1232.07 1353.45 1239.95C1352.95 1258.51 1352.95 1302.25 1352.7 1333.4" fill="none" stroke="#f26522" stroke-width="6.0" stroke-linecap="round" stroke-linejoin="round"/>
<path d="M1369.37 1065.92C1369.27 1067.31 1369.35 1068.54 1369.06 1070.09C1368.67 1072.13 1367.87 1074.72 1366.89 1077.05C1365.81 1079.61 1364.15 1082.14 1362.72 1084.78C1361.22 1087.55 1359.38 1090.4 1358.08 1093.28C1356.82 1096.07 1355.76 1098.85 1354.99 1101.78C1354.21 1104.77 1353.81 1107.78 1353.45 1111.05C1353.05 1114.69 1352.96 1118.25 1352.83 1122.64C1352.65 1128.42 1352.71 1132.62 1352.67 1142.74C1352.55 1173.89 1352.69 1269.85 1352.7 1333.4" fill="none" stroke="#129a47" stroke-width="6.0" stroke-linecap="round" stroke-linejoin="round"/>
<path d="M1659.01 1066.23C1655.4 1066.59 1651.91 1066.89 1648.19 1067.31C1644.2 1067.76 1639.95 1068.27 1635.83 1068.86C1631.7 1069.45 1627.57 1070.1 1623.46 1070.87C1619.33 1071.64 1615.07 1072.5 1611.1 1073.49C1607.36 1074.42 1603.79 1075.4 1600.28 1076.58C1596.84 1077.73 1593.39 1078.96 1590.23 1080.45C1587.22 1081.87 1584.37 1083.51 1581.73 1085.24C1579.24 1086.87 1576.86 1088.55 1574.78 1090.49C1572.76 1092.37 1570.92 1094.45 1569.37 1096.68C1567.83 1098.89 1566.58 1101.3 1565.5 1103.79C1564.4 1106.34 1563.56 1109.02 1562.87 1111.82C1562.15 1114.78 1561.78 1117.88 1561.33 1121.1C1560.84 1124.56 1560.4 1128.19 1560.09 1131.92C1559.76 1135.9 1559.66 1139.93 1559.47 1144.28C1559.25 1149.14 1559.06 1154.46 1558.86 1159.74C1558.65 1165.27 1558.45 1171.07 1558.24 1176.74C1558.03 1182.41 1557.83 1188.21 1557.62 1193.74C1557.42 1199.02 1557.17 1201.58 1557 1209.2C1556.52 1230.79 1556.67 1292 1556.5 1333.4" fill="none" stroke="#000" stroke-width="6.0" stroke-linecap="round" stroke-linejoin="round"/>
<path d="M1662.57 1065.92C1662.57 1067.05 1662.67 1068.02 1662.57 1069.32C1662.44 1071.08 1662.16 1073.35 1661.64 1075.5C1661.04 1077.96 1660.11 1080.63 1659.01 1083.23C1657.82 1086.04 1656.32 1088.95 1654.68 1091.73C1652.98 1094.62 1651.03 1097.44 1648.96 1100.23C1646.82 1103.11 1644.43 1105.93 1642.01 1108.73C1639.54 1111.6 1636.95 1114.43 1634.28 1117.23C1631.55 1120.1 1628.65 1122.91 1625.78 1125.73C1622.88 1128.58 1619.89 1131.39 1616.97 1134.23C1614.07 1137.06 1611.17 1139.89 1608.32 1142.74C1605.5 1145.56 1602.67 1148.38 1599.97 1151.24C1597.32 1154.05 1594.73 1156.88 1592.24 1159.74C1589.79 1162.55 1587.42 1165.38 1585.13 1168.24C1582.88 1171.05 1580.68 1173.83 1578.64 1176.74C1576.61 1179.65 1574.67 1182.62 1572.92 1185.7C1571.16 1188.8 1569.55 1192.02 1568.13 1195.29C1566.71 1198.56 1565.49 1201.89 1564.42 1205.33C1563.32 1208.84 1562.41 1212.46 1561.64 1216.15C1560.85 1219.93 1560.27 1223.82 1559.78 1227.74C1559.28 1231.75 1559.03 1235.1 1558.7 1239.95C1558.22 1247.08 1557.77 1257.22 1557.47 1266.38C1557.14 1276.28 1556.99 1286.59 1556.85 1297.3C1556.69 1308.87 1556.68 1321.37 1556.6 1333.4" fill="none" stroke="#f26522" stroke-width="6.0" stroke-linecap="round" stroke-linejoin="round"/>
<path d="M1606.31 1065.92C1606.21 1067.05 1606.37 1068.14 1606 1069.32C1605.54 1070.79 1604.53 1072.43 1603.37 1073.96C1601.98 1075.79 1599.98 1077.64 1597.96 1079.37C1595.75 1081.26 1593.12 1082.98 1590.54 1084.78C1587.82 1086.68 1584.87 1088.56 1582.04 1090.49C1579.2 1092.43 1576.17 1094.3 1573.54 1096.37C1571.04 1098.33 1568.62 1100.31 1566.58 1102.55C1564.62 1104.7 1562.85 1107.04 1561.48 1109.51C1560.13 1111.94 1559.13 1114.44 1558.39 1117.23C1557.57 1120.31 1557.31 1123.75 1557 1127.28C1556.66 1131.18 1556.66 1133.06 1556.54 1139.64C1556.05 1165.68 1556.51 1268.81 1556.5 1333.4" fill="none" stroke="#129a47" stroke-width="6.0" stroke-linecap="round" stroke-linejoin="round"/>
<path d="M1908.39 1065.92C1904.27 1066.18 1900.37 1066.38 1896.02 1066.69C1891.15 1067.04 1885.72 1067.47 1880.57 1067.93C1875.42 1068.39 1870.26 1068.9 1865.11 1069.47C1859.96 1070.04 1854.81 1070.66 1849.66 1071.33C1844.5 1072 1839.06 1072.7 1834.2 1073.49C1829.84 1074.2 1825.94 1074.91 1821.83 1075.81C1817.7 1076.71 1813.43 1077.75 1809.47 1078.9C1805.72 1079.98 1802.08 1081.1 1798.65 1082.46C1795.4 1083.75 1792.28 1085.19 1789.38 1086.79C1786.63 1088.3 1784 1089.89 1781.65 1091.73C1779.38 1093.51 1777.28 1095.47 1775.47 1097.6C1773.69 1099.7 1772.12 1102.01 1770.83 1104.4C1769.55 1106.76 1768.55 1109.17 1767.74 1111.82C1766.86 1114.7 1766.39 1117.88 1765.88 1121.1C1765.34 1124.56 1764.98 1128.19 1764.65 1131.92C1764.3 1135.9 1764.12 1140.04 1763.87 1144.28C1763.6 1148.78 1763.33 1153.43 1763.1 1158.19C1762.86 1163.21 1762.69 1168.5 1762.48 1173.65C1762.28 1178.8 1762.05 1183.95 1761.87 1189.1C1761.69 1194.25 1761.55 1196.9 1761.4 1204.56C1760.98 1226.66 1760.73 1290.45 1760.4 1333.4" fill="none" stroke="#000" stroke-width="6.0" stroke-linecap="round" stroke-linejoin="round"/>
<path d="M1836.83 1065.92C1836.83 1067.31 1836.91 1068.49 1836.83 1070.09C1836.72 1072.27 1836.5 1075.14 1836.05 1077.82C1835.56 1080.78 1834.83 1084.03 1833.89 1087.09C1832.93 1090.22 1831.66 1093.24 1830.34 1096.37C1828.95 1099.67 1827.36 1103.09 1825.7 1106.41C1824.01 1109.79 1822.2 1113.14 1820.29 1116.46C1818.34 1119.84 1816.21 1123.17 1814.11 1126.51C1811.99 1129.87 1809.81 1133.21 1807.62 1136.55C1805.43 1139.91 1803.12 1143.23 1800.97 1146.6C1798.84 1149.93 1796.81 1153.29 1794.79 1156.65C1792.79 1159.99 1790.8 1163.33 1788.91 1166.69C1787.04 1170.02 1785.18 1173.36 1783.5 1176.74C1781.84 1180.06 1780.34 1183.43 1778.87 1186.79C1777.41 1190.12 1775.98 1193.46 1774.69 1196.83C1773.41 1200.16 1772.25 1203.52 1771.14 1206.88C1770.04 1210.22 1768.94 1213.49 1768.05 1216.92C1767.13 1220.44 1766.37 1224.01 1765.73 1227.74C1765.06 1231.67 1764.69 1235.63 1764.18 1239.95C1763.6 1244.83 1762.93 1250.13 1762.48 1255.56C1761.99 1261.47 1761.68 1267.58 1761.4 1274.11C1761.09 1281.41 1760.92 1288.72 1760.78 1297.3C1760.61 1308.01 1760.66 1321.37 1760.6 1333.4" fill="none" stroke="#f26522" stroke-width="6.0" stroke-linecap="round" stroke-linejoin="round"/>
<path d="M1810.24 1065.92C1810.14 1067.05 1810.26 1068.09 1809.93 1069.32C1809.5 1070.95 1808.53 1072.92 1807.46 1074.73C1806.24 1076.79 1804.6 1078.85 1802.82 1080.91C1800.81 1083.23 1798.35 1085.57 1795.87 1087.87C1793.22 1090.32 1790.2 1092.69 1787.37 1095.13C1784.53 1097.58 1781.53 1099.98 1778.87 1102.55C1776.29 1105.04 1773.76 1107.62 1771.6 1110.28C1769.56 1112.79 1767.66 1115.28 1766.19 1118.01C1764.74 1120.7 1763.63 1123.51 1762.79 1126.51C1761.9 1129.67 1761.48 1133.02 1761.09 1136.55C1760.66 1140.45 1760.64 1142.37 1760.47 1148.92C1759.83 1174.21 1760.42 1271.91 1760.4 1333.4" fill="none" stroke="#129a47" stroke-width="6.0" stroke-linecap="round" stroke-linejoin="round"/>
<g font-size="42.7" style="stroke-width:0.08px">
<text transform="translate(1040.2 31.7) scale(1 1.0)" text-anchor="middle">bSi [wt%]</text>
<text transform="translate(1040.8 474.5) scale(1 1.03)" text-anchor="middle">H<tspan font-size="24.9" dy="10.2">4</tspan><tspan dy="-10.2">SiO</tspan><tspan font-size="24.9" dy="10.2">4</tspan><tspan dy="-10.2"> [µmol L</tspan><tspan font-size="24.9" dy="-13.6">-1</tspan><tspan dy="13.6">]</tspan></text>
<text transform="translate(1040.4 895) scale(1 1.0)" text-anchor="middle">bSi dissolution [µmol cm<tspan font-size="24.9" dy="-13.6">-3</tspan><tspan dy="13.6"> yr</tspan><tspan font-size="24.9" dy="-13.6">-1</tspan><tspan dy="13.6">]</tspan></text>
<text transform="translate(1040.4 941.7) scale(1 1.0)" text-anchor="middle" style="fill:#f26522;stroke:#f26522">Bioirrigation coefficient [yr<tspan font-size="24.9" dy="-13.6">-1</tspan><tspan dy="13.6">]</tspan></text>
<text transform="translate(1040.8 989.7) scale(1 1.0)" text-anchor="middle" style="fill:#129a47;stroke:#129a47">Bioturbation coefficient [cm<tspan font-size="24.9" dy="-13.6">2</tspan><tspan dy="13.6"> yr</tspan><tspan font-size="24.9" dy="-13.6">-1</tspan><tspan dy="13.6">]</tspan></text>
</g>
<text transform="translate(31.3 701.3) rotate(-90) scale(1 1.0)" font-size="42.6" text-anchor="middle" style="stroke-width:0.08px">Sediment depth [cm]</text>
<g font-size="28.5" font-weight="bold" style="stroke:none">
<text transform="translate(71.7 42) scale(1 1.04)" style="stroke:none">A</text>
<text transform="translate(71.7 486.6) scale(1 1.04)" style="stroke:none">B</text>
<text transform="translate(71.7 959.4) scale(1 1.04)" style="stroke:none">C</text>
</g>
<g font-size="28.5">
<text transform="translate(211.65 1404) scale(1 1.04)" text-anchor="middle">MUC1</text>
<text transform="translate(211.65 1435) scale(1 1.04)" text-anchor="middle">65m</text>
<text transform="translate(416.4 1404) scale(1 1.04)" text-anchor="middle">MUC6</text>
<text transform="translate(416.4 1435) scale(1 1.04)" text-anchor="middle">185m</text>
<text transform="translate(619.8 1404) scale(1 1.04)" text-anchor="middle">MUC3</text>
<text transform="translate(619.8 1435) scale(1 1.04)" text-anchor="middle">215m</text>
<text transform="translate(822.9 1404) scale(1 1.04)" text-anchor="middle">MUC5</text>
<text transform="translate(822.9 1435) scale(1 1.04)" text-anchor="middle">434m</text>
<text transform="translate(1040.35 1404) scale(1 1.04)" text-anchor="middle">MUC8</text>
<text transform="translate(1040.35 1435) scale(1 1.04)" text-anchor="middle">490m</text>
<text transform="translate(1231.35 1404) scale(1 1.04)" text-anchor="middle">MUC2</text>
<text transform="translate(1231.35 1435) scale(1 1.04)" text-anchor="middle">500m</text>
<text transform="translate(1435.45 1404) scale(1 1.04)" text-anchor="middle">St. 65</text>
<text transform="translate(1435.45 1435) scale(1 1.04)" text-anchor="middle">530m</text>
<text transform="translate(1639.2 1404) scale(1 1.04)" text-anchor="middle">MUC9</text>
<text transform="translate(1639.2 1435) scale(1 1.04)" text-anchor="middle">604m</text>
<text transform="translate(1842.9 1404) scale(1 1.04)" text-anchor="middle">MUC7</text>
<text transform="translate(1842.9 1435) scale(1 1.04)" text-anchor="middle">677m</text>
</g>
</svg></body></html>
